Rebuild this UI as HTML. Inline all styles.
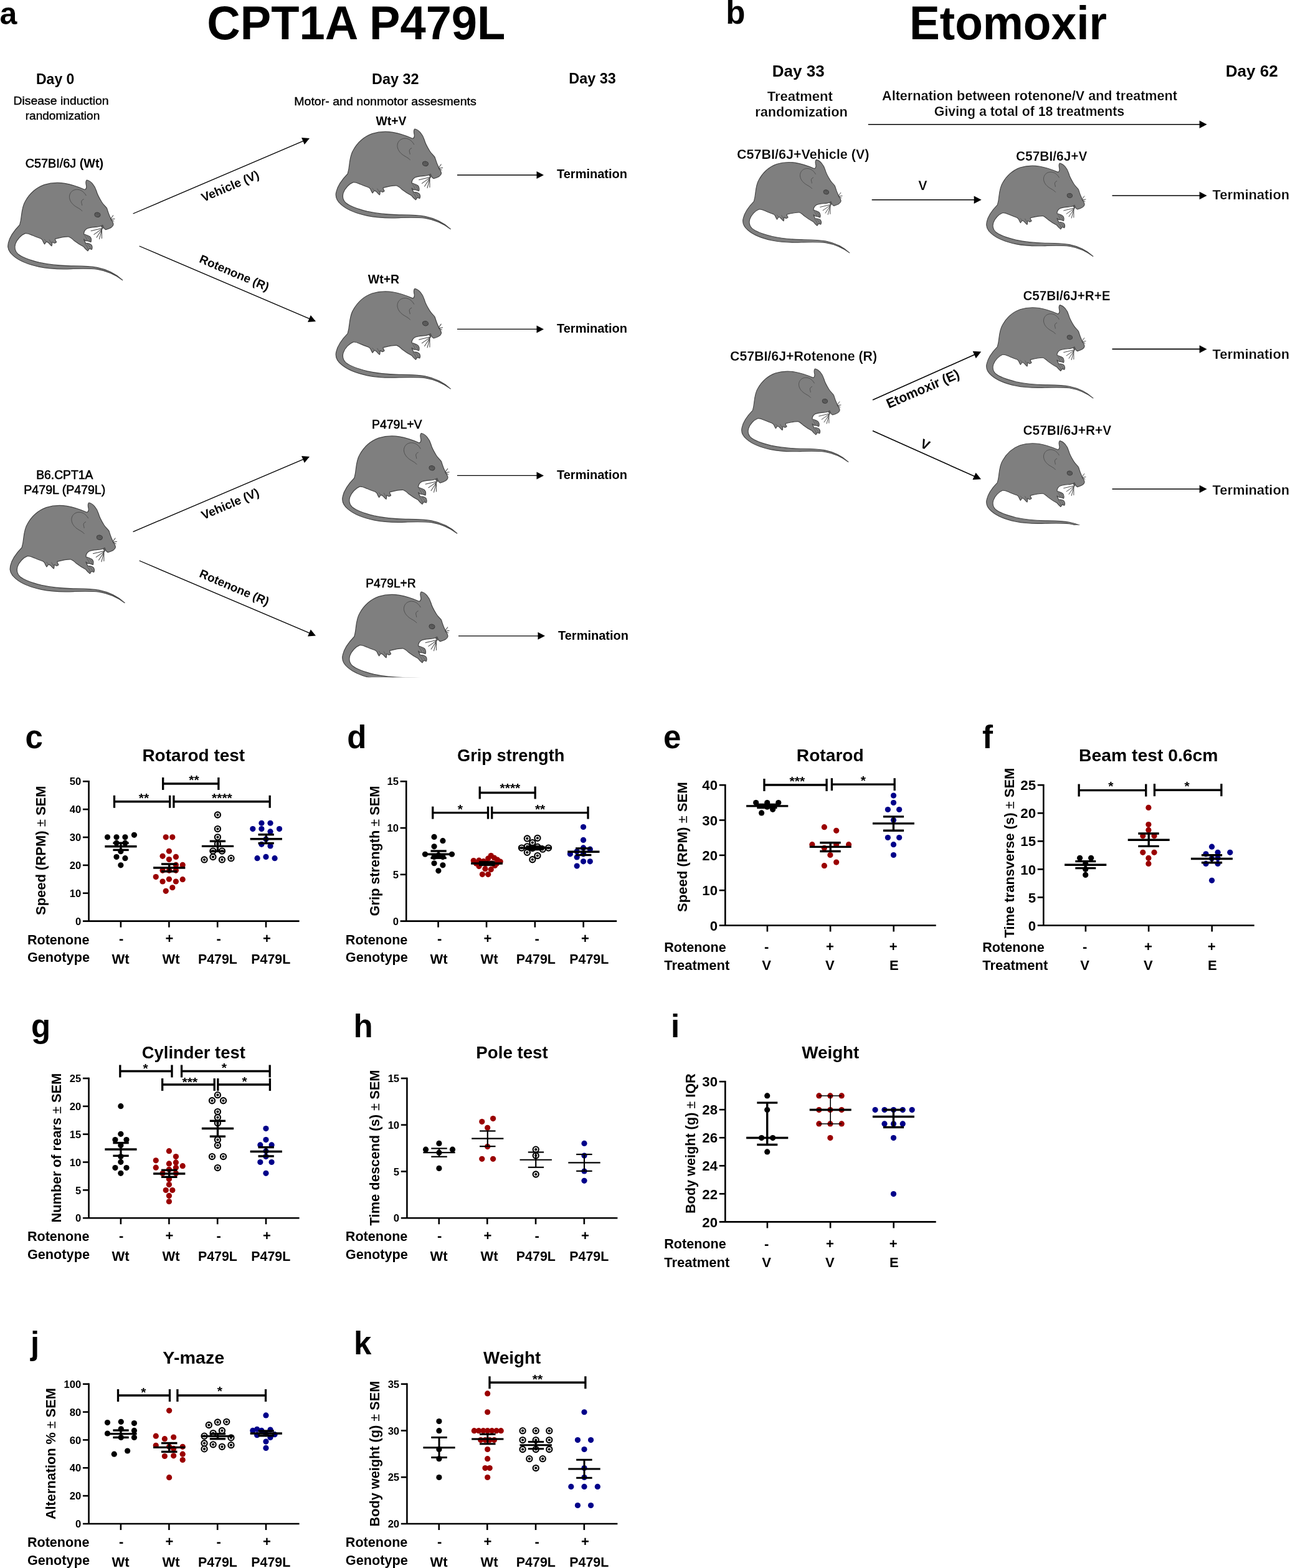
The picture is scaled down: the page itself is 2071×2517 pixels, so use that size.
<!DOCTYPE html>
<html><head><meta charset="utf-8"><title>Figure</title>
<style>
html,body{margin:0;padding:0;background:#fff;width:2071px;height:2517px;overflow:hidden;}
svg{display:block;font-family:"Liberation Sans",Arial,Helvetica,sans-serif;font-weight:bold;}
</style></head>
<body>
<svg width="2071" height="2517" viewBox="0 0 2071 2517">
<rect width="2071" height="2517" fill="#fff"/>
<defs><g id="mouse"><path d="M1100,150 C1150,160 1200,215 1222,290 C1232,330 1262,385 1290,430 C1310,465 1345,490 1355,510 C1370,560 1385,600 1400,630 C1420,670 1440,695 1436,715 C1430,745 1390,765 1340,778 C1320,770 1310,750 1300,722 C1285,730 1265,738 1245,742 C1190,748 1120,750 1095,770 C1075,785 1062,810 1062,835 C1090,845 1120,850 1140,868 C1155,885 1162,905 1152,935 C1135,930 1120,922 1105,920 C1090,925 1075,915 1062,900 C1070,925 1080,940 1085,950 C1110,950 1140,955 1158,972 C1170,990 1172,1010 1162,1030 C1150,1025 1140,1022 1130,1020 C1125,1030 1120,1040 1112,1048 C1095,1035 1075,1015 1060,995 C1020,975 975,945 940,918 C915,895 895,875 870,868 C820,866 760,880 700,895 C695,905 705,920 715,935 C705,945 695,950 685,948 C675,940 668,935 660,935 C662,955 660,970 655,985 C640,975 628,960 618,948 C608,940 598,932 590,930 C580,940 572,950 565,962 C552,945 545,925 538,910 C530,900 522,895 515,890 C480,880 440,862 400,845 C370,832 345,822 320,826 C270,845 215,900 195,960 C180,1010 190,1050 225,1085 C280,1130 380,1165 500,1195 C620,1222 760,1235 900,1238 C1020,1240 1130,1240 1230,1258 C1350,1282 1470,1340 1553,1418 C1470,1355 1350,1300 1230,1280 C1130,1268 1020,1272 900,1275 C760,1280 620,1275 500,1250 C380,1225 250,1180 170,1110 C110,1060 90,1010 105,950 C120,880 170,800 250,718 C262,680 268,640 272,600 C280,530 290,470 320,420 C370,330 450,250 560,210 C640,185 740,180 820,192 C900,205 990,235 1075,272 C1090,265 1098,245 1095,225 C1088,195 1080,165 1100,150 Z" fill="#7f7f7f" stroke="#454545" stroke-width="9.5" stroke-linejoin="round"/><path d="M1092,348 C1060,290 1010,262 955,272 C905,282 875,325 880,375 C888,430 930,470 975,495 C1005,512 1030,528 1043,545" fill="none" stroke="#474747" stroke-width="6.5"/><path d="M1062,392 C1040,400 1028,415 1032,435 C1036,450 1040,462 1040,472" fill="none" stroke="#474747" stroke-width="6.5"/><ellipse cx="1235" cy="590" rx="36" ry="29" transform="rotate(12 1235 590)" fill="#5c5c5c" stroke="#3a3a3a" stroke-width="8"/><path d="M1222,580 C1235,572 1250,580 1248,596" fill="none" stroke="#4a4a4a" stroke-width="5"/><path d="M1300,760 L1150,796 M1298,765 L1188,842 M1295,770 L1222,880 M1292,775 L1258,900 M1290,775 L1290,892 M1400,645 L1436,596 M1402,650 L1456,642 M1404,655 L1446,672" fill="none" stroke="#404040" stroke-width="8"/><path d="M1275,735 L1300,715 L1312,745 L1305,772 Z" fill="#555"/><path d="M1070,850 C1085,870 1100,890 1105,915 M1100,860 C1120,875 1135,895 1140,925 M1075,958 C1095,975 1110,995 1115,1030 M1105,962 C1125,975 1140,995 1150,1020 M560,900 L585,925 M625,905 L650,950" fill="none" stroke="#505050" stroke-width="6"/></g></defs>
<text x="-0.5" y="39" font-size="50">a</text>
<text x="571.8" y="62.8" font-size="75.5" text-anchor="middle" textLength="479" lengthAdjust="spacingAndGlyphs">CPT1A P479L</text>
<text x="88.7" y="134.6" font-size="23" text-anchor="middle">Day 0</text>
<text x="98" y="168.4" font-size="19" font-weight="normal" text-anchor="middle" textLength="153" lengthAdjust="spacingAndGlyphs" stroke="#000" stroke-width="0.4" stroke-linejoin="round">Disease induction</text>
<text x="100.5" y="191.7" font-size="19" font-weight="normal" text-anchor="middle" textLength="119.5" lengthAdjust="spacingAndGlyphs" stroke="#000" stroke-width="0.4" stroke-linejoin="round">randomization</text>
<text x="40.8" y="269.4" font-size="20" font-weight="normal" textLength="125.3" lengthAdjust="spacingAndGlyphs" stroke="#000" stroke-width="0.6" stroke-linejoin="round">C57BI/6J <tspan font-weight="bold" stroke="none">(Wt)</tspan></text>
<text x="634.8" y="134.6" font-size="23.4" text-anchor="middle">Day 32</text>
<text x="618.5" y="168.6" font-size="19" font-weight="normal" text-anchor="middle" textLength="292.5" lengthAdjust="spacingAndGlyphs" stroke="#000" stroke-width="0.4" stroke-linejoin="round">Motor- and nonmotor assesments</text>
<text x="951" y="134.2" font-size="23.4" text-anchor="middle">Day 33</text>
<text x="628" y="201" font-size="20.5" text-anchor="middle" textLength="48.9" lengthAdjust="spacingAndGlyphs">Wt+V</text>
<text x="616" y="455" font-size="20.5" text-anchor="middle" textLength="50.3" lengthAdjust="spacingAndGlyphs">Wt+R</text>
<text x="637.3" y="687.7" font-size="20" font-weight="normal" text-anchor="middle" textLength="80.5" lengthAdjust="spacingAndGlyphs" stroke="#000" stroke-width="0.6" stroke-linejoin="round">P479L+V</text>
<text x="627.4" y="943" font-size="20" font-weight="normal" text-anchor="middle" textLength="80.5" lengthAdjust="spacingAndGlyphs" stroke="#000" stroke-width="0.6" stroke-linejoin="round">P479L+R</text>
<text x="103.8" y="768.9" font-size="19.3" font-weight="normal" text-anchor="middle" stroke="#000" stroke-width="0.6" stroke-linejoin="round">B6.CPT1A</text>
<text x="103.8" y="792.7" font-size="19.5" font-weight="normal" text-anchor="middle" textLength="131" lengthAdjust="spacingAndGlyphs" stroke="#000" stroke-width="0.6" stroke-linejoin="round">P479L (P479L)</text>
<text x="894" y="286.4" font-size="20">Termination</text>
<line x1="734" y1="281" x2="862.5" y2="281" stroke="#000" stroke-width="1.35"/>
<polygon points="873,281 861.5,287 861.5,275" fill="#000"/>
<text x="894" y="534" font-size="20">Termination</text>
<line x1="734" y1="528.4" x2="862.5" y2="528.4" stroke="#000" stroke-width="1.35"/>
<polygon points="873,528.4 861.5,534.4 861.5,522.4" fill="#000"/>
<text x="894" y="769" font-size="20">Termination</text>
<line x1="734" y1="763.4" x2="862.5" y2="763.4" stroke="#000" stroke-width="1.35"/>
<polygon points="873,763.4 861.5,769.4 861.5,757.4" fill="#000"/>
<text x="896" y="1026.6" font-size="20">Termination</text>
<line x1="736" y1="1020.8" x2="864.5" y2="1020.8" stroke="#000" stroke-width="1.35"/>
<polygon points="875,1020.8 863.5,1026.8 863.5,1014.8" fill="#000"/>
<line x1="213.6" y1="343" x2="487.34" y2="226.12" stroke="#000" stroke-width="1.35"/>
<polygon points="497,222 488.78,232.03 484.07,221" fill="#000"/>
<line x1="223.7" y1="395" x2="497.34" y2="511.88" stroke="#000" stroke-width="1.35"/>
<polygon points="507,516 494.07,517 498.78,505.97" fill="#000"/>
<line x1="213.6" y1="853.6" x2="487.34" y2="737.11" stroke="#000" stroke-width="1.35"/>
<polygon points="497,733 488.77,743.02 484.07,731.98" fill="#000"/>
<line x1="223.7" y1="900" x2="497.34" y2="1016.49" stroke="#000" stroke-width="1.35"/>
<polygon points="507,1020.6 494.07,1021.62 498.77,1010.58" fill="#000"/>
<text x="372.2" y="304.8" font-size="19.5" text-anchor="middle" transform="rotate(-23.1 372.2 304.8)">Vehicle (V)</text>
<text x="373.7" y="444" font-size="19" text-anchor="middle" transform="rotate(23.1 373.7 444)">Rotenone (R)</text>
<text x="372.2" y="814.8" font-size="19.5" text-anchor="middle" transform="rotate(-23.1 372.2 814.8)">Vehicle (V)</text>
<text x="373.7" y="949" font-size="19" text-anchor="middle" transform="rotate(23.1 373.7 949)">Rotenone (R)</text>
<use href="#mouse" transform="translate(-0.04 269.99) scale(0.12673)"/>
<use href="#mouse" transform="translate(526.46 187.99) scale(0.12673)"/>
<use href="#mouse" transform="translate(526.46 444.39) scale(0.12673)"/>
<use href="#mouse" transform="translate(3.36 787.99) scale(0.12673)"/>
<use href="#mouse" transform="translate(536.96 676.49) scale(0.12673)"/>
<clipPath id="c45"><rect x="540" y="940" width="200" height="147.2"/></clipPath>
<g clip-path="url(#c45)"><use href="#mouse" transform="translate(536.96 930.99) scale(0.12673)"/></g>
<text x="1165.3" y="37.6" font-size="51">b</text>
<text x="1618.5" y="62.8" font-size="75.5" text-anchor="middle" textLength="317" lengthAdjust="spacingAndGlyphs">Etomoxir</text>
<text x="1281.7" y="123.4" font-size="26" text-anchor="middle">Day 33</text>
<text x="2009.7" y="123.4" font-size="26" text-anchor="middle">Day 62</text>
<text x="1284.3" y="162" font-size="22" text-anchor="middle" stroke="#fff" stroke-width="0.25" stroke-linejoin="round">Treatment</text>
<text x="1286.5" y="187" font-size="21.7" text-anchor="middle" textLength="148.5" lengthAdjust="spacingAndGlyphs" stroke="#fff" stroke-width="0.25" stroke-linejoin="round">randomization</text>
<text x="1653" y="161" font-size="21.6" text-anchor="middle" stroke="#fff" stroke-width="0.25" stroke-linejoin="round">Alternation between rotenone/V and treatment</text>
<text x="1652.5" y="186" font-size="21.3" text-anchor="middle" stroke="#fff" stroke-width="0.25" stroke-linejoin="round">Giving a total of 18 treatments</text>
<line x1="1393.8" y1="199.8" x2="1926.6" y2="199.8" stroke="#000" stroke-width="1.6"/>
<polygon points="1937.6,199.8 1925.6,206.05 1925.6,193.55" fill="#000"/>
<text x="1183" y="255" font-size="21.8" textLength="212.5" lengthAdjust="spacingAndGlyphs" stroke="#fff" stroke-width="0.25" stroke-linejoin="round">C57BI/6J+Vehicle (V)</text>
<text x="1481.5" y="305" font-size="21.5" text-anchor="middle" stroke="#fff" stroke-width="0.25" stroke-linejoin="round">V</text>
<line x1="1399.7" y1="320.8" x2="1564.6" y2="320.8" stroke="#000" stroke-width="1.6"/>
<polygon points="1575.6,320.8 1563.6,327.05 1563.6,314.55" fill="#000"/>
<text x="1631" y="257.6" font-size="21.8" textLength="114.5" lengthAdjust="spacingAndGlyphs" stroke="#fff" stroke-width="0.25" stroke-linejoin="round">C57BI/6J+V</text>
<line x1="1785.5" y1="314" x2="1926.6" y2="314" stroke="#000" stroke-width="1.6"/>
<polygon points="1937.6,314 1925.6,320.25 1925.6,307.75" fill="#000"/>
<text x="1946.5" y="320" font-size="21.9" stroke="#fff" stroke-width="0.25" stroke-linejoin="round">Termination</text>
<text x="1642.4" y="481.7" font-size="21.8" textLength="140.1" lengthAdjust="spacingAndGlyphs" stroke="#fff" stroke-width="0.25" stroke-linejoin="round">C57BI/6J+R+E</text>
<line x1="1785.5" y1="560.4" x2="1926.6" y2="560.4" stroke="#000" stroke-width="1.6"/>
<polygon points="1937.6,560.4 1925.6,566.65 1925.6,554.15" fill="#000"/>
<text x="1946.5" y="576" font-size="21.9" stroke="#fff" stroke-width="0.25" stroke-linejoin="round">Termination</text>
<text x="1172" y="579" font-size="21.8" textLength="236.1" lengthAdjust="spacingAndGlyphs" stroke="#fff" stroke-width="0.25" stroke-linejoin="round">C57BI/6J+Rotenone (R)</text>
<line x1="1401" y1="642" x2="1565.15" y2="569.07" stroke="#000" stroke-width="1.6"/>
<polygon points="1575.2,564.6 1566.77,575.18 1561.7,563.76" fill="#000"/>
<line x1="1401" y1="691.6" x2="1564.96" y2="764.81" stroke="#000" stroke-width="1.6"/>
<polygon points="1575,769.3 1561.49,770.11 1566.59,758.7" fill="#000"/>
<text x="1484.5" y="630.8" font-size="21.8" text-anchor="middle" transform="rotate(-23.4 1484.5 630.8)" textLength="125.5" lengthAdjust="spacingAndGlyphs">Etomoxir (E)</text>
<text x="1482.5" y="720" font-size="21" text-anchor="middle" transform="rotate(23.6 1482.5 720)">V</text>
<text x="1642.4" y="698" font-size="21.8" textLength="141.9" lengthAdjust="spacingAndGlyphs" stroke="#fff" stroke-width="0.25" stroke-linejoin="round">C57BI/6J+R+V</text>
<line x1="1785.5" y1="785" x2="1926.6" y2="785" stroke="#000" stroke-width="1.6"/>
<polygon points="1937.6,785 1925.6,791.25 1925.6,778.75" fill="#000"/>
<text x="1946.5" y="793.6" font-size="21.9" stroke="#fff" stroke-width="0.25" stroke-linejoin="round">Termination</text>
<use href="#mouse" transform="translate(1180.8 238.72) scale(0.11786)"/>
<use href="#mouse" transform="translate(1571.8 244.32) scale(0.11786)"/>
<use href="#mouse" transform="translate(1571.8 471.92) scale(0.11786)"/>
<use href="#mouse" transform="translate(1178.8 574.32) scale(0.11786)"/>
<clipPath id="c84"><rect x="1570" y="700" width="200" height="143"/></clipPath>
<g clip-path="url(#c84)"><use href="#mouse" transform="translate(1571.8 689.92) scale(0.11786)"/></g>
<line x1="142.55" y1="1253" x2="142.55" y2="1478.6" stroke="#000" stroke-width="2.6"/>
<line x1="132.95" y1="1478.6" x2="480.55" y2="1478.6" stroke="#000" stroke-width="2.6"/>
<line x1="132.95" y1="1254.3" x2="142.55" y2="1254.3" stroke="#000" stroke-width="2.6"/>
<line x1="132.95" y1="1299.16" x2="142.55" y2="1299.16" stroke="#000" stroke-width="2.6"/>
<line x1="132.95" y1="1344.02" x2="142.55" y2="1344.02" stroke="#000" stroke-width="2.6"/>
<line x1="132.95" y1="1388.88" x2="142.55" y2="1388.88" stroke="#000" stroke-width="2.6"/>
<line x1="132.95" y1="1433.74" x2="142.55" y2="1433.74" stroke="#000" stroke-width="2.6"/>
<line x1="193.9" y1="1478.6" x2="193.9" y2="1488.6" stroke="#000" stroke-width="2.6"/>
<line x1="271.4" y1="1478.6" x2="271.4" y2="1488.6" stroke="#000" stroke-width="2.6"/>
<line x1="349.2" y1="1478.6" x2="349.2" y2="1488.6" stroke="#000" stroke-width="2.6"/>
<line x1="427" y1="1478.6" x2="427" y2="1488.6" stroke="#000" stroke-width="2.6"/>
<text x="130.25" y="1260.46" font-size="16.6" text-anchor="end">50</text>
<text x="130.25" y="1305.32" font-size="16.6" text-anchor="end">40</text>
<text x="130.25" y="1350.18" font-size="16.6" text-anchor="end">30</text>
<text x="130.25" y="1395.04" font-size="16.6" text-anchor="end">20</text>
<text x="130.25" y="1439.9" font-size="16.6" text-anchor="end">10</text>
<text x="130.25" y="1484.76" font-size="16.6" text-anchor="end">0</text>
<circle cx="172.51" cy="1343.87" r="4.6" fill="#000000"/>
<circle cx="187.03" cy="1343.87" r="4.6" fill="#000000"/>
<circle cx="200.92" cy="1343.87" r="4.6" fill="#000000"/>
<circle cx="215.44" cy="1340.35" r="4.6" fill="#000000"/>
<circle cx="187.03" cy="1353.2" r="4.6" fill="#000000"/>
<circle cx="200.92" cy="1353.2" r="4.6" fill="#000000"/>
<circle cx="193.87" cy="1366.68" r="4.6" fill="#000000"/>
<circle cx="187.03" cy="1375.6" r="4.6" fill="#000000"/>
<circle cx="200.92" cy="1377.67" r="4.6" fill="#000000"/>
<circle cx="193.87" cy="1388.87" r="4.6" fill="#000000"/>
<circle cx="266.24" cy="1343.87" r="4.6" fill="#9a0000"/>
<circle cx="276.82" cy="1343.87" r="4.6" fill="#9a0000"/>
<circle cx="271.43" cy="1366.27" r="4.6" fill="#9a0000"/>
<circle cx="261.06" cy="1374.35" r="4.6" fill="#9a0000"/>
<circle cx="282.42" cy="1375.39" r="4.6" fill="#9a0000"/>
<circle cx="271.43" cy="1379.54" r="4.6" fill="#9a0000"/>
<circle cx="282.42" cy="1388.46" r="4.6" fill="#9a0000"/>
<circle cx="293.2" cy="1388.46" r="4.6" fill="#9a0000"/>
<circle cx="261.06" cy="1397.37" r="4.6" fill="#9a0000"/>
<circle cx="271.64" cy="1397.37" r="4.6" fill="#9a0000"/>
<circle cx="282.42" cy="1397.37" r="4.6" fill="#9a0000"/>
<circle cx="250.28" cy="1407.53" r="4.6" fill="#9a0000"/>
<circle cx="271.43" cy="1411.27" r="4.6" fill="#9a0000"/>
<circle cx="293.2" cy="1411.68" r="4.6" fill="#9a0000"/>
<circle cx="261.06" cy="1415" r="4.6" fill="#9a0000"/>
<circle cx="282.42" cy="1415" r="4.6" fill="#9a0000"/>
<circle cx="276.82" cy="1424.75" r="4.6" fill="#9a0000"/>
<circle cx="266.24" cy="1430.35" r="4.6" fill="#9a0000"/>
<circle cx="349.4" cy="1308" r="4.6" fill="#f0f0f0" stroke="#000" stroke-width="2.1"/>
<circle cx="349.4" cy="1308" r="2.05" fill="#000"/>
<circle cx="349.4" cy="1330.6" r="4.6" fill="#f0f0f0" stroke="#000" stroke-width="2.1"/>
<circle cx="349.4" cy="1330.6" r="2.05" fill="#000"/>
<circle cx="349.4" cy="1343.87" r="4.6" fill="#f0f0f0" stroke="#000" stroke-width="2.1"/>
<circle cx="349.4" cy="1343.87" r="2.05" fill="#000"/>
<circle cx="349.4" cy="1354.86" r="4.6" fill="#f0f0f0" stroke="#000" stroke-width="2.1"/>
<circle cx="349.4" cy="1354.86" r="2.05" fill="#000"/>
<circle cx="341.94" cy="1366.06" r="4.6" fill="#f0f0f0" stroke="#000" stroke-width="2.1"/>
<circle cx="341.94" cy="1366.06" r="2.05" fill="#000"/>
<circle cx="356.45" cy="1366.06" r="4.6" fill="#f0f0f0" stroke="#000" stroke-width="2.1"/>
<circle cx="356.45" cy="1366.06" r="2.05" fill="#000"/>
<circle cx="341.94" cy="1375.6" r="4.6" fill="#f0f0f0" stroke="#000" stroke-width="2.1"/>
<circle cx="341.94" cy="1375.6" r="2.05" fill="#000"/>
<circle cx="328.04" cy="1379.95" r="4.6" fill="#f0f0f0" stroke="#000" stroke-width="2.1"/>
<circle cx="328.04" cy="1379.95" r="2.05" fill="#000"/>
<circle cx="356.45" cy="1379.95" r="4.6" fill="#f0f0f0" stroke="#000" stroke-width="2.1"/>
<circle cx="356.45" cy="1379.95" r="2.05" fill="#000"/>
<circle cx="370.97" cy="1377.67" r="4.6" fill="#f0f0f0" stroke="#000" stroke-width="2.1"/>
<circle cx="370.97" cy="1377.67" r="2.05" fill="#000"/>
<circle cx="419.91" cy="1321.27" r="4.6" fill="#00008a"/>
<circle cx="434.01" cy="1321.27" r="4.6" fill="#00008a"/>
<circle cx="405.81" cy="1330.6" r="4.6" fill="#00008a"/>
<circle cx="419.91" cy="1330.6" r="4.6" fill="#00008a"/>
<circle cx="448.53" cy="1330.6" r="4.6" fill="#00008a"/>
<circle cx="434.01" cy="1334.95" r="4.6" fill="#00008a"/>
<circle cx="419.91" cy="1355.28" r="4.6" fill="#00008a"/>
<circle cx="434.01" cy="1357.97" r="4.6" fill="#00008a"/>
<circle cx="413.06" cy="1377.67" r="4.6" fill="#00008a"/>
<circle cx="426.96" cy="1375.39" r="4.6" fill="#00008a"/>
<circle cx="441.06" cy="1377.67" r="4.6" fill="#00008a"/>
<circle cx="426.96" cy="1346.98" r="4.6" fill="#00008a"/>
<line x1="193.97" y1="1353.2" x2="193.97" y2="1364.4" stroke="#000" stroke-width="3.4"/>
<line x1="168.36" y1="1358.8" x2="219.59" y2="1358.8" stroke="#000" stroke-width="3.4"/>
<line x1="181.43" y1="1353.2" x2="206.73" y2="1353.2" stroke="#000" stroke-width="3.4"/>
<line x1="181.43" y1="1364.4" x2="206.73" y2="1364.4" stroke="#000" stroke-width="3.4"/>
<line x1="271.74" y1="1387" x2="271.74" y2="1398.82" stroke="#000" stroke-width="3.4"/>
<line x1="246.13" y1="1393.02" x2="297.35" y2="1393.02" stroke="#000" stroke-width="3.4"/>
<line x1="258.99" y1="1387" x2="284.49" y2="1387" stroke="#000" stroke-width="3.4"/>
<line x1="258.99" y1="1398.82" x2="284.49" y2="1398.82" stroke="#000" stroke-width="3.4"/>
<line x1="349.5" y1="1350.3" x2="349.5" y2="1366.47" stroke="#000" stroke-width="3.4"/>
<line x1="323.89" y1="1358.39" x2="375.12" y2="1358.39" stroke="#000" stroke-width="3.4"/>
<line x1="336.75" y1="1350.3" x2="362.05" y2="1350.3" stroke="#000" stroke-width="3.4"/>
<line x1="336.75" y1="1366.47" x2="362.05" y2="1366.47" stroke="#000" stroke-width="3.4"/>
<line x1="427.27" y1="1339.72" x2="427.27" y2="1353.62" stroke="#000" stroke-width="3.4"/>
<line x1="401.66" y1="1346.77" x2="452.88" y2="1346.77" stroke="#000" stroke-width="3.4"/>
<line x1="414.52" y1="1339.72" x2="439.82" y2="1339.72" stroke="#000" stroke-width="3.4"/>
<line x1="414.52" y1="1353.62" x2="439.82" y2="1353.62" stroke="#000" stroke-width="3.4"/>
<line x1="261.68" y1="1258" x2="350.85" y2="1258" stroke="#000" stroke-width="3.4"/>
<line x1="261.68" y1="1248" x2="261.68" y2="1268" stroke="#000" stroke-width="3.3"/>
<line x1="350.85" y1="1248" x2="350.85" y2="1268" stroke="#000" stroke-width="3.3"/>
<text x="311.45" y="1258.98" font-size="21" text-anchor="middle">**</text>
<line x1="183.5" y1="1286.82" x2="272.67" y2="1286.82" stroke="#000" stroke-width="3.4"/>
<line x1="183.5" y1="1276.82" x2="183.5" y2="1296.82" stroke="#000" stroke-width="3.3"/>
<line x1="272.67" y1="1276.82" x2="272.67" y2="1296.82" stroke="#000" stroke-width="3.3"/>
<text x="230.99" y="1288.43" font-size="21" text-anchor="middle">**</text>
<line x1="278.89" y1="1286.82" x2="433.18" y2="1286.82" stroke="#000" stroke-width="3.4"/>
<line x1="278.89" y1="1276.82" x2="278.89" y2="1296.82" stroke="#000" stroke-width="3.3"/>
<line x1="433.18" y1="1276.82" x2="433.18" y2="1296.82" stroke="#000" stroke-width="3.3"/>
<text x="356.45" y="1288.43" font-size="21" text-anchor="middle">****</text>
<text x="310.8" y="1222.1" font-size="28" text-anchor="middle" textLength="164.8" lengthAdjust="spacingAndGlyphs">Rotarod test</text>
<text x="40.5" y="1201.3" font-size="51">c</text>
<text transform="translate(73.4 1365.2) rotate(-90)" font-size="22.4" text-anchor="middle" textLength="207.6" lengthAdjust="spacingAndGlyphs">Speed (RPM) <tspan font-weight="normal">±</tspan> SEM</text>
<text x="43.9" y="1515.7" font-size="22" textLength="99.5" lengthAdjust="spacingAndGlyphs">Rotenone</text>
<text x="43.9" y="1544.3" font-size="22" textLength="100.1" lengthAdjust="spacingAndGlyphs">Genotype</text>
<text x="194.7" y="1514.4" font-size="22" text-anchor="middle">-</text>
<text x="272" y="1514.4" font-size="22" text-anchor="middle">+</text>
<text x="351.1" y="1514.4" font-size="22" text-anchor="middle">-</text>
<text x="428.4" y="1514.4" font-size="22" text-anchor="middle">+</text>
<text x="193.6" y="1547.4" font-size="22" text-anchor="middle">Wt</text>
<text x="274.5" y="1547.4" font-size="22" text-anchor="middle">Wt</text>
<text x="349.4" y="1547.4" font-size="22" text-anchor="middle" textLength="63" lengthAdjust="spacingAndGlyphs">P479L</text>
<text x="434.8" y="1547.4" font-size="22" text-anchor="middle" textLength="63" lengthAdjust="spacingAndGlyphs">P479L</text>
<line x1="652.2" y1="1253" x2="652.2" y2="1478.6" stroke="#000" stroke-width="2.6"/>
<line x1="642.6" y1="1478.6" x2="990.2" y2="1478.6" stroke="#000" stroke-width="2.6"/>
<line x1="642.6" y1="1254.3" x2="652.2" y2="1254.3" stroke="#000" stroke-width="2.6"/>
<line x1="642.6" y1="1329.07" x2="652.2" y2="1329.07" stroke="#000" stroke-width="2.6"/>
<line x1="642.6" y1="1403.83" x2="652.2" y2="1403.83" stroke="#000" stroke-width="2.6"/>
<line x1="703.55" y1="1478.6" x2="703.55" y2="1488.6" stroke="#000" stroke-width="2.6"/>
<line x1="781.05" y1="1478.6" x2="781.05" y2="1488.6" stroke="#000" stroke-width="2.6"/>
<line x1="858.85" y1="1478.6" x2="858.85" y2="1488.6" stroke="#000" stroke-width="2.6"/>
<line x1="936.65" y1="1478.6" x2="936.65" y2="1488.6" stroke="#000" stroke-width="2.6"/>
<text x="639.9" y="1260.46" font-size="16.6" text-anchor="end">15</text>
<text x="639.9" y="1335.23" font-size="16.6" text-anchor="end">10</text>
<text x="639.9" y="1409.99" font-size="16.6" text-anchor="end">5</text>
<text x="639.9" y="1484.76" font-size="16.6" text-anchor="end">0</text>
<circle cx="697.03" cy="1343.46" r="4.6" fill="#000000"/>
<circle cx="710.92" cy="1349.68" r="4.6" fill="#000000"/>
<circle cx="697.03" cy="1358.8" r="4.6" fill="#000000"/>
<circle cx="682.51" cy="1371.24" r="4.6" fill="#000000"/>
<circle cx="725.44" cy="1371.24" r="4.6" fill="#000000"/>
<circle cx="697.03" cy="1375.6" r="4.6" fill="#000000"/>
<circle cx="710.92" cy="1375.6" r="4.6" fill="#000000"/>
<circle cx="703.87" cy="1372.9" r="4.6" fill="#000000"/>
<circle cx="697.03" cy="1385.76" r="4.6" fill="#000000"/>
<circle cx="710.92" cy="1388.87" r="4.6" fill="#000000"/>
<circle cx="703.87" cy="1397.79" r="4.6" fill="#000000"/>
<circle cx="760.28" cy="1381.61" r="4.6" fill="#9a0000"/>
<circle cx="768.99" cy="1381.2" r="4.6" fill="#9a0000"/>
<circle cx="776.24" cy="1382.65" r="4.6" fill="#9a0000"/>
<circle cx="788.27" cy="1373.53" r="4.6" fill="#9a0000"/>
<circle cx="783.71" cy="1378.09" r="4.6" fill="#9a0000"/>
<circle cx="793.46" cy="1377.05" r="4.6" fill="#9a0000"/>
<circle cx="798.64" cy="1380.16" r="4.6" fill="#9a0000"/>
<circle cx="803.2" cy="1383.06" r="4.6" fill="#9a0000"/>
<circle cx="764.42" cy="1385.97" r="4.6" fill="#9a0000"/>
<circle cx="772.72" cy="1385.97" r="4.6" fill="#9a0000"/>
<circle cx="781.01" cy="1385.97" r="4.6" fill="#9a0000"/>
<circle cx="789.31" cy="1385.97" r="4.6" fill="#9a0000"/>
<circle cx="797.6" cy="1385.97" r="4.6" fill="#9a0000"/>
<circle cx="768.99" cy="1390.53" r="4.6" fill="#9a0000"/>
<circle cx="778.94" cy="1394.68" r="4.6" fill="#9a0000"/>
<circle cx="788.27" cy="1395.71" r="4.6" fill="#9a0000"/>
<circle cx="794.49" cy="1389.49" r="4.6" fill="#9a0000"/>
<circle cx="774.38" cy="1403.59" r="4.6" fill="#9a0000"/>
<circle cx="783.71" cy="1403.59" r="4.6" fill="#9a0000"/>
<circle cx="846.34" cy="1345.94" r="4.6" fill="#f0f0f0" stroke="#000" stroke-width="2.1"/>
<circle cx="846.34" cy="1345.94" r="2.05" fill="#000"/>
<circle cx="862.93" cy="1345.32" r="4.6" fill="#f0f0f0" stroke="#000" stroke-width="2.1"/>
<circle cx="862.93" cy="1345.32" r="2.05" fill="#000"/>
<circle cx="854.84" cy="1352.58" r="4.6" fill="#f0f0f0" stroke="#000" stroke-width="2.1"/>
<circle cx="854.84" cy="1352.58" r="2.05" fill="#000"/>
<circle cx="846.34" cy="1358.8" r="4.6" fill="#f0f0f0" stroke="#000" stroke-width="2.1"/>
<circle cx="846.34" cy="1358.8" r="2.05" fill="#000"/>
<circle cx="837.42" cy="1361.08" r="4.6" fill="#f0f0f0" stroke="#000" stroke-width="2.1"/>
<circle cx="837.42" cy="1361.08" r="2.05" fill="#000"/>
<circle cx="880.55" cy="1361.08" r="4.6" fill="#f0f0f0" stroke="#000" stroke-width="2.1"/>
<circle cx="880.55" cy="1361.08" r="2.05" fill="#000"/>
<circle cx="871.22" cy="1363.16" r="4.6" fill="#f0f0f0" stroke="#000" stroke-width="2.1"/>
<circle cx="871.22" cy="1363.16" r="2.05" fill="#000"/>
<circle cx="854.84" cy="1361.5" r="4.6" fill="#f0f0f0" stroke="#000" stroke-width="2.1"/>
<circle cx="854.84" cy="1361.5" r="2.05" fill="#000"/>
<circle cx="862.93" cy="1359.42" r="4.6" fill="#f0f0f0" stroke="#000" stroke-width="2.1"/>
<circle cx="862.93" cy="1359.42" r="2.05" fill="#000"/>
<circle cx="846.34" cy="1368.34" r="4.6" fill="#f0f0f0" stroke="#000" stroke-width="2.1"/>
<circle cx="846.34" cy="1368.34" r="2.05" fill="#000"/>
<circle cx="862.93" cy="1373.53" r="4.6" fill="#f0f0f0" stroke="#000" stroke-width="2.1"/>
<circle cx="862.93" cy="1373.53" r="2.05" fill="#000"/>
<circle cx="854.84" cy="1379.75" r="4.6" fill="#f0f0f0" stroke="#000" stroke-width="2.1"/>
<circle cx="854.84" cy="1379.75" r="2.05" fill="#000"/>
<circle cx="936.54" cy="1327.49" r="4.6" fill="#00008a"/>
<circle cx="936.54" cy="1348.43" r="4.6" fill="#00008a"/>
<circle cx="936.54" cy="1360.88" r="4.6" fill="#00008a"/>
<circle cx="947.33" cy="1363.16" r="4.6" fill="#00008a"/>
<circle cx="926.18" cy="1366.68" r="4.6" fill="#00008a"/>
<circle cx="915.39" cy="1370.83" r="4.6" fill="#00008a"/>
<circle cx="926.18" cy="1376.01" r="4.6" fill="#00008a"/>
<circle cx="936.54" cy="1370.83" r="4.6" fill="#00008a"/>
<circle cx="936.54" cy="1382.86" r="4.6" fill="#00008a"/>
<circle cx="947.33" cy="1382.86" r="4.6" fill="#00008a"/>
<circle cx="926.18" cy="1390.12" r="4.6" fill="#00008a"/>
<line x1="703.97" y1="1366.06" x2="703.97" y2="1377.26" stroke="#000" stroke-width="3.4"/>
<line x1="678.36" y1="1371.24" x2="729.59" y2="1371.24" stroke="#000" stroke-width="3.4"/>
<line x1="691.43" y1="1366.06" x2="716.73" y2="1366.06" stroke="#000" stroke-width="3.4"/>
<line x1="691.43" y1="1377.26" x2="716.73" y2="1377.26" stroke="#000" stroke-width="3.4"/>
<line x1="781.53" y1="1383.89" x2="781.53" y2="1388.46" stroke="#000" stroke-width="3.4"/>
<line x1="756.13" y1="1385.97" x2="806.94" y2="1385.97" stroke="#000" stroke-width="3.4"/>
<line x1="768.99" y1="1383.89" x2="794.49" y2="1383.89" stroke="#000" stroke-width="3.4"/>
<line x1="768.99" y1="1388.46" x2="794.49" y2="1388.46" stroke="#000" stroke-width="3.4"/>
<line x1="859.5" y1="1358.8" x2="859.5" y2="1363.57" stroke="#000" stroke-width="3.4"/>
<line x1="833.89" y1="1361.08" x2="885.12" y2="1361.08" stroke="#000" stroke-width="3.4"/>
<line x1="846.75" y1="1358.8" x2="872.05" y2="1358.8" stroke="#000" stroke-width="3.4"/>
<line x1="846.75" y1="1363.57" x2="872.05" y2="1363.57" stroke="#000" stroke-width="3.4"/>
<line x1="936.85" y1="1361.91" x2="936.85" y2="1372.49" stroke="#000" stroke-width="3.4"/>
<line x1="911.24" y1="1367.3" x2="962.47" y2="1367.3" stroke="#000" stroke-width="3.4"/>
<line x1="924.1" y1="1361.91" x2="949.4" y2="1361.91" stroke="#000" stroke-width="3.4"/>
<line x1="924.1" y1="1372.49" x2="949.4" y2="1372.49" stroke="#000" stroke-width="3.4"/>
<line x1="770.23" y1="1272.51" x2="859.19" y2="1272.51" stroke="#000" stroke-width="3.4"/>
<line x1="770.23" y1="1262.51" x2="770.23" y2="1282.51" stroke="#000" stroke-width="3.3"/>
<line x1="859.19" y1="1262.51" x2="859.19" y2="1282.51" stroke="#000" stroke-width="3.3"/>
<text x="818.96" y="1272.46" font-size="21" text-anchor="middle">****</text>
<line x1="694.75" y1="1304.66" x2="783.5" y2="1304.66" stroke="#000" stroke-width="3.4"/>
<line x1="694.75" y1="1294.66" x2="694.75" y2="1314.66" stroke="#000" stroke-width="3.3"/>
<line x1="783.5" y1="1294.66" x2="783.5" y2="1314.66" stroke="#000" stroke-width="3.3"/>
<text x="738.92" y="1305.64" font-size="21" text-anchor="middle">*</text>
<line x1="789.72" y1="1304.66" x2="944.01" y2="1304.66" stroke="#000" stroke-width="3.4"/>
<line x1="789.72" y1="1294.66" x2="789.72" y2="1314.66" stroke="#000" stroke-width="3.3"/>
<line x1="944.01" y1="1294.66" x2="944.01" y2="1314.66" stroke="#000" stroke-width="3.3"/>
<text x="867.07" y="1305.64" font-size="21" text-anchor="middle">**</text>
<text x="820.2" y="1222.1" font-size="28" text-anchor="middle" textLength="172.3" lengthAdjust="spacingAndGlyphs">Grip strength</text>
<text x="557.3" y="1201.3" font-size="51">d</text>
<text transform="translate(608.7 1366) rotate(-90)" font-size="22.4" text-anchor="middle" textLength="209" lengthAdjust="spacingAndGlyphs">Grip strength <tspan font-weight="normal">±</tspan> SEM</text>
<text x="554.85" y="1515.7" font-size="22" textLength="99.5" lengthAdjust="spacingAndGlyphs">Rotenone</text>
<text x="554.85" y="1544.3" font-size="22" textLength="100.1" lengthAdjust="spacingAndGlyphs">Genotype</text>
<text x="705.65" y="1514.4" font-size="22" text-anchor="middle">-</text>
<text x="782.95" y="1514.4" font-size="22" text-anchor="middle">+</text>
<text x="862.05" y="1514.4" font-size="22" text-anchor="middle">-</text>
<text x="939.35" y="1514.4" font-size="22" text-anchor="middle">+</text>
<text x="704.55" y="1547.4" font-size="22" text-anchor="middle">Wt</text>
<text x="785.45" y="1547.4" font-size="22" text-anchor="middle">Wt</text>
<text x="860.35" y="1547.4" font-size="22" text-anchor="middle" textLength="63" lengthAdjust="spacingAndGlyphs">P479L</text>
<text x="945.75" y="1547.4" font-size="22" text-anchor="middle" textLength="63" lengthAdjust="spacingAndGlyphs">P479L</text>
<line x1="1164.3" y1="1258.9" x2="1164.3" y2="1485.5" stroke="#000" stroke-width="2.6"/>
<line x1="1154.7" y1="1485.5" x2="1502.7" y2="1485.5" stroke="#000" stroke-width="2.6"/>
<line x1="1154.7" y1="1260.2" x2="1164.3" y2="1260.2" stroke="#000" stroke-width="2.6"/>
<line x1="1154.7" y1="1316.53" x2="1164.3" y2="1316.53" stroke="#000" stroke-width="2.6"/>
<line x1="1154.7" y1="1372.85" x2="1164.3" y2="1372.85" stroke="#000" stroke-width="2.6"/>
<line x1="1154.7" y1="1429.17" x2="1164.3" y2="1429.17" stroke="#000" stroke-width="2.6"/>
<line x1="1231.9" y1="1485.5" x2="1231.9" y2="1495.5" stroke="#000" stroke-width="2.6"/>
<line x1="1333.1" y1="1485.5" x2="1333.1" y2="1495.5" stroke="#000" stroke-width="2.6"/>
<line x1="1434.7" y1="1485.5" x2="1434.7" y2="1495.5" stroke="#000" stroke-width="2.6"/>
<text x="1152" y="1268.34" font-size="22.2" text-anchor="end">40</text>
<text x="1152" y="1324.66" font-size="22.2" text-anchor="end">30</text>
<text x="1152" y="1380.99" font-size="22.2" text-anchor="end">20</text>
<text x="1152" y="1437.31" font-size="22.2" text-anchor="end">10</text>
<text x="1152" y="1493.64" font-size="22.2" text-anchor="end">0</text>
<circle cx="1213.66" cy="1288.5" r="4.6" fill="#000000"/>
<circle cx="1231.71" cy="1288.5" r="4.6" fill="#000000"/>
<circle cx="1249.75" cy="1288.5" r="4.6" fill="#000000"/>
<circle cx="1240.62" cy="1299.29" r="4.6" fill="#000000"/>
<circle cx="1222.58" cy="1304.88" r="4.6" fill="#000000"/>
<circle cx="1231.71" cy="1295.14" r="4.6" fill="#000000"/>
<circle cx="1323.36" cy="1327.7" r="4.6" fill="#9a0000"/>
<circle cx="1342.65" cy="1333.29" r="4.6" fill="#9a0000"/>
<circle cx="1303.87" cy="1355.69" r="4.6" fill="#9a0000"/>
<circle cx="1362.56" cy="1355.69" r="4.6" fill="#9a0000"/>
<circle cx="1342.65" cy="1355.69" r="4.6" fill="#9a0000"/>
<circle cx="1323.36" cy="1361.29" r="4.6" fill="#9a0000"/>
<circle cx="1332.9" cy="1372.49" r="4.6" fill="#9a0000"/>
<circle cx="1342.65" cy="1384.1" r="4.6" fill="#9a0000"/>
<circle cx="1323.36" cy="1389.7" r="4.6" fill="#9a0000"/>
<circle cx="1434.52" cy="1277.1" r="4.6" fill="#00008a"/>
<circle cx="1434.52" cy="1288.5" r="4.6" fill="#00008a"/>
<circle cx="1425.39" cy="1299.49" r="4.6" fill="#00008a"/>
<circle cx="1443.64" cy="1299.49" r="4.6" fill="#00008a"/>
<circle cx="1434.52" cy="1316.5" r="4.6" fill="#00008a"/>
<circle cx="1425.39" cy="1344.49" r="4.6" fill="#00008a"/>
<circle cx="1443.64" cy="1344.49" r="4.6" fill="#00008a"/>
<circle cx="1434.52" cy="1355.69" r="4.6" fill="#00008a"/>
<circle cx="1434.52" cy="1372.49" r="4.6" fill="#00008a"/>
<line x1="1231.71" y1="1291.41" x2="1231.71" y2="1296.59" stroke="#000" stroke-width="3.4"/>
<line x1="1198.11" y1="1293.89" x2="1265.3" y2="1293.89" stroke="#000" stroke-width="3.4"/>
<line x1="1215.32" y1="1291.41" x2="1247.47" y2="1291.41" stroke="#000" stroke-width="3.4"/>
<line x1="1215.32" y1="1296.59" x2="1247.47" y2="1296.59" stroke="#000" stroke-width="3.4"/>
<line x1="1333.21" y1="1352.79" x2="1333.21" y2="1366.47" stroke="#000" stroke-width="3.4"/>
<line x1="1299.72" y1="1359.42" x2="1366.71" y2="1359.42" stroke="#000" stroke-width="3.4"/>
<line x1="1316.31" y1="1352.79" x2="1349.7" y2="1352.79" stroke="#000" stroke-width="3.4"/>
<line x1="1316.31" y1="1366.47" x2="1349.7" y2="1366.47" stroke="#000" stroke-width="3.4"/>
<line x1="1434.41" y1="1310.9" x2="1434.41" y2="1333.29" stroke="#000" stroke-width="3.4"/>
<line x1="1400.92" y1="1321.89" x2="1467.9" y2="1321.89" stroke="#000" stroke-width="3.4"/>
<line x1="1417.93" y1="1310.9" x2="1451.11" y2="1310.9" stroke="#000" stroke-width="3.4"/>
<line x1="1417.93" y1="1333.29" x2="1451.11" y2="1333.29" stroke="#000" stroke-width="3.4"/>
<line x1="1226.94" y1="1259.99" x2="1327.1" y2="1259.99" stroke="#000" stroke-width="3.4"/>
<line x1="1226.94" y1="1249.99" x2="1226.94" y2="1269.99" stroke="#000" stroke-width="3.3"/>
<line x1="1327.1" y1="1249.99" x2="1327.1" y2="1269.99" stroke="#000" stroke-width="3.3"/>
<text x="1279.82" y="1261.05" font-size="21" text-anchor="middle">***</text>
<line x1="1335.39" y1="1259.16" x2="1436.18" y2="1259.16" stroke="#000" stroke-width="3.4"/>
<line x1="1335.39" y1="1249.16" x2="1335.39" y2="1269.16" stroke="#000" stroke-width="3.3"/>
<line x1="1436.18" y1="1249.16" x2="1436.18" y2="1269.16" stroke="#000" stroke-width="3.3"/>
<text x="1385.78" y="1260.02" font-size="21" text-anchor="middle">*</text>
<text x="1332.8" y="1222.1" font-size="28" text-anchor="middle" textLength="107.9" lengthAdjust="spacingAndGlyphs">Rotarod</text>
<text x="1065" y="1201" font-size="51">e</text>
<text transform="translate(1102.9 1359.7) rotate(-90)" font-size="22.4" text-anchor="middle" textLength="208.5" lengthAdjust="spacingAndGlyphs">Speed (RPM) <tspan font-weight="normal">±</tspan> SEM</text>
<text x="1066.2" y="1527.9" font-size="22" textLength="99.5" lengthAdjust="spacingAndGlyphs">Rotenone</text>
<text x="1066.2" y="1557.2" font-size="22" textLength="105.2" lengthAdjust="spacingAndGlyphs">Treatment</text>
<text x="1230.6" y="1527.2" font-size="22" text-anchor="middle">-</text>
<text x="1332.5" y="1527.2" font-size="22" text-anchor="middle">+</text>
<text x="1434.3" y="1527.2" font-size="22" text-anchor="middle">+</text>
<text x="1230.7" y="1557.2" font-size="22" text-anchor="middle">V</text>
<text x="1332.3" y="1557.2" font-size="22" text-anchor="middle">V</text>
<text x="1435.3" y="1557.2" font-size="22" text-anchor="middle">E</text>
<line x1="1675.3" y1="1258.9" x2="1675.3" y2="1485.5" stroke="#000" stroke-width="2.6"/>
<line x1="1665.7" y1="1485.5" x2="2013.7" y2="1485.5" stroke="#000" stroke-width="2.6"/>
<line x1="1665.7" y1="1260.2" x2="1675.3" y2="1260.2" stroke="#000" stroke-width="2.6"/>
<line x1="1665.7" y1="1305.26" x2="1675.3" y2="1305.26" stroke="#000" stroke-width="2.6"/>
<line x1="1665.7" y1="1350.32" x2="1675.3" y2="1350.32" stroke="#000" stroke-width="2.6"/>
<line x1="1665.7" y1="1395.38" x2="1675.3" y2="1395.38" stroke="#000" stroke-width="2.6"/>
<line x1="1665.7" y1="1440.44" x2="1675.3" y2="1440.44" stroke="#000" stroke-width="2.6"/>
<line x1="1742.9" y1="1485.5" x2="1742.9" y2="1495.5" stroke="#000" stroke-width="2.6"/>
<line x1="1844.1" y1="1485.5" x2="1844.1" y2="1495.5" stroke="#000" stroke-width="2.6"/>
<line x1="1945.7" y1="1485.5" x2="1945.7" y2="1495.5" stroke="#000" stroke-width="2.6"/>
<text x="1663" y="1268.34" font-size="22.2" text-anchor="end">25</text>
<text x="1663" y="1313.4" font-size="22.2" text-anchor="end">20</text>
<text x="1663" y="1358.46" font-size="22.2" text-anchor="end">15</text>
<text x="1663" y="1403.52" font-size="22.2" text-anchor="end">10</text>
<text x="1663" y="1448.58" font-size="22.2" text-anchor="end">5</text>
<text x="1663" y="1493.64" font-size="22.2" text-anchor="end">0</text>
<circle cx="1733.58" cy="1377.26" r="4.6" fill="#000000"/>
<circle cx="1751.62" cy="1377.26" r="4.6" fill="#000000"/>
<circle cx="1742.71" cy="1386.38" r="4.6" fill="#000000"/>
<circle cx="1742.71" cy="1395.3" r="4.6" fill="#000000"/>
<circle cx="1742.71" cy="1404.42" r="4.6" fill="#000000"/>
<circle cx="1843.9" cy="1296.38" r="4.6" fill="#9a0000"/>
<circle cx="1843.9" cy="1323.55" r="4.6" fill="#9a0000"/>
<circle cx="1843.9" cy="1332.47" r="4.6" fill="#9a0000"/>
<circle cx="1834.78" cy="1341.8" r="4.6" fill="#9a0000"/>
<circle cx="1853.03" cy="1341.8" r="4.6" fill="#9a0000"/>
<circle cx="1834.78" cy="1368.34" r="4.6" fill="#9a0000"/>
<circle cx="1853.03" cy="1368.34" r="4.6" fill="#9a0000"/>
<circle cx="1843.9" cy="1377.47" r="4.6" fill="#9a0000"/>
<circle cx="1843.9" cy="1386.38" r="4.6" fill="#9a0000"/>
<circle cx="1945.52" cy="1359.22" r="4.6" fill="#00008a"/>
<circle cx="1935.98" cy="1370.83" r="4.6" fill="#00008a"/>
<circle cx="1955.06" cy="1368.34" r="4.6" fill="#00008a"/>
<circle cx="1974.76" cy="1368.34" r="4.6" fill="#00008a"/>
<circle cx="1955.06" cy="1377.47" r="4.6" fill="#00008a"/>
<circle cx="1945.52" cy="1378.09" r="4.6" fill="#00008a"/>
<circle cx="1935.98" cy="1386.38" r="4.6" fill="#00008a"/>
<circle cx="1955.06" cy="1386.38" r="4.6" fill="#00008a"/>
<circle cx="1945.52" cy="1413.34" r="4.6" fill="#00008a"/>
<line x1="1742.71" y1="1382.65" x2="1742.71" y2="1393.64" stroke="#000" stroke-width="3.4"/>
<line x1="1709.11" y1="1388.25" x2="1776.3" y2="1388.25" stroke="#000" stroke-width="3.4"/>
<line x1="1726.32" y1="1382.65" x2="1759.29" y2="1382.65" stroke="#000" stroke-width="3.4"/>
<line x1="1726.32" y1="1393.64" x2="1759.29" y2="1393.64" stroke="#000" stroke-width="3.4"/>
<line x1="1844.21" y1="1338.06" x2="1844.21" y2="1358.39" stroke="#000" stroke-width="3.4"/>
<line x1="1810.72" y1="1348.23" x2="1877.71" y2="1348.23" stroke="#000" stroke-width="3.4"/>
<line x1="1827.31" y1="1338.06" x2="1860.7" y2="1338.06" stroke="#000" stroke-width="3.4"/>
<line x1="1827.31" y1="1358.39" x2="1860.7" y2="1358.39" stroke="#000" stroke-width="3.4"/>
<line x1="1945.41" y1="1372.7" x2="1945.41" y2="1384.72" stroke="#000" stroke-width="3.4"/>
<line x1="1911.92" y1="1378.5" x2="1978.9" y2="1378.5" stroke="#000" stroke-width="3.4"/>
<line x1="1928.93" y1="1372.7" x2="1962.11" y2="1372.7" stroke="#000" stroke-width="3.4"/>
<line x1="1928.93" y1="1384.72" x2="1962.11" y2="1384.72" stroke="#000" stroke-width="3.4"/>
<line x1="1732.13" y1="1268.59" x2="1839.76" y2="1268.59" stroke="#000" stroke-width="3.4"/>
<line x1="1732.13" y1="1258.59" x2="1732.13" y2="1278.59" stroke="#000" stroke-width="3.3"/>
<line x1="1839.76" y1="1258.59" x2="1839.76" y2="1278.59" stroke="#000" stroke-width="3.3"/>
<text x="1783.35" y="1268.73" font-size="21" text-anchor="middle">*</text>
<line x1="1853.44" y1="1268.18" x2="1960.86" y2="1268.18" stroke="#000" stroke-width="3.4"/>
<line x1="1853.44" y1="1258.18" x2="1853.44" y2="1278.18" stroke="#000" stroke-width="3.3"/>
<line x1="1960.86" y1="1258.18" x2="1960.86" y2="1278.18" stroke="#000" stroke-width="3.3"/>
<text x="1905.7" y="1268.73" font-size="21" text-anchor="middle">*</text>
<text x="1843.8" y="1222.1" font-size="28" text-anchor="middle" textLength="223.5" lengthAdjust="spacingAndGlyphs">Beam test 0.6cm</text>
<text x="1577" y="1201" font-size="51">f</text>
<text transform="translate(1627.7 1369.1) rotate(-90)" font-size="22.4" text-anchor="middle" textLength="273" lengthAdjust="spacingAndGlyphs">Time transverse (s) <tspan font-weight="normal">±</tspan> SEM</text>
<text x="1577.2" y="1527.9" font-size="22" textLength="99.5" lengthAdjust="spacingAndGlyphs">Rotenone</text>
<text x="1577.2" y="1557.2" font-size="22" textLength="105.2" lengthAdjust="spacingAndGlyphs">Treatment</text>
<text x="1741.6" y="1527.2" font-size="22" text-anchor="middle">-</text>
<text x="1843.5" y="1527.2" font-size="22" text-anchor="middle">+</text>
<text x="1945.3" y="1527.2" font-size="22" text-anchor="middle">+</text>
<text x="1741.7" y="1557.2" font-size="22" text-anchor="middle">V</text>
<text x="1843.3" y="1557.2" font-size="22" text-anchor="middle">V</text>
<text x="1946.3" y="1557.2" font-size="22" text-anchor="middle">E</text>
<line x1="142.55" y1="1729.7" x2="142.55" y2="1955.2" stroke="#000" stroke-width="2.6"/>
<line x1="132.95" y1="1955.2" x2="480.55" y2="1955.2" stroke="#000" stroke-width="2.6"/>
<line x1="132.95" y1="1731" x2="142.55" y2="1731" stroke="#000" stroke-width="2.6"/>
<line x1="132.95" y1="1775.84" x2="142.55" y2="1775.84" stroke="#000" stroke-width="2.6"/>
<line x1="132.95" y1="1820.68" x2="142.55" y2="1820.68" stroke="#000" stroke-width="2.6"/>
<line x1="132.95" y1="1865.52" x2="142.55" y2="1865.52" stroke="#000" stroke-width="2.6"/>
<line x1="132.95" y1="1910.36" x2="142.55" y2="1910.36" stroke="#000" stroke-width="2.6"/>
<line x1="193.9" y1="1955.2" x2="193.9" y2="1965.2" stroke="#000" stroke-width="2.6"/>
<line x1="271.4" y1="1955.2" x2="271.4" y2="1965.2" stroke="#000" stroke-width="2.6"/>
<line x1="349.2" y1="1955.2" x2="349.2" y2="1965.2" stroke="#000" stroke-width="2.6"/>
<line x1="427" y1="1955.2" x2="427" y2="1965.2" stroke="#000" stroke-width="2.6"/>
<text x="130.25" y="1737.16" font-size="16.6" text-anchor="end">25</text>
<text x="130.25" y="1782" font-size="16.6" text-anchor="end">20</text>
<text x="130.25" y="1826.84" font-size="16.6" text-anchor="end">15</text>
<text x="130.25" y="1871.68" font-size="16.6" text-anchor="end">10</text>
<text x="130.25" y="1916.52" font-size="16.6" text-anchor="end">5</text>
<text x="130.25" y="1961.36" font-size="16.6" text-anchor="end">0</text>
<circle cx="193.87" cy="1775.69" r="4.6" fill="#000000"/>
<circle cx="193.87" cy="1820.28" r="4.6" fill="#000000"/>
<circle cx="184.95" cy="1829.61" r="4.6" fill="#000000"/>
<circle cx="203" cy="1829.61" r="4.6" fill="#000000"/>
<circle cx="193.87" cy="1838.53" r="4.6" fill="#000000"/>
<circle cx="193.87" cy="1856.57" r="4.6" fill="#000000"/>
<circle cx="193.87" cy="1865.28" r="4.6" fill="#000000"/>
<circle cx="184.95" cy="1874.61" r="4.6" fill="#000000"/>
<circle cx="203" cy="1874.61" r="4.6" fill="#000000"/>
<circle cx="193.87" cy="1883.32" r="4.6" fill="#000000"/>
<circle cx="271.43" cy="1847.65" r="4.6" fill="#9a0000"/>
<circle cx="282.42" cy="1856.57" r="4.6" fill="#9a0000"/>
<circle cx="250.28" cy="1862.79" r="4.6" fill="#9a0000"/>
<circle cx="271.43" cy="1867.97" r="4.6" fill="#9a0000"/>
<circle cx="282.42" cy="1865.9" r="4.6" fill="#9a0000"/>
<circle cx="293.2" cy="1871.71" r="4.6" fill="#9a0000"/>
<circle cx="250.28" cy="1874.19" r="4.6" fill="#9a0000"/>
<circle cx="282.42" cy="1874.19" r="4.6" fill="#9a0000"/>
<circle cx="271.43" cy="1877.3" r="4.6" fill="#9a0000"/>
<circle cx="261.06" cy="1883.53" r="4.6" fill="#9a0000"/>
<circle cx="282.42" cy="1883.53" r="4.6" fill="#9a0000"/>
<circle cx="271.43" cy="1892.86" r="4.6" fill="#9a0000"/>
<circle cx="271.43" cy="1901.57" r="4.6" fill="#9a0000"/>
<circle cx="266.24" cy="1910.48" r="4.6" fill="#9a0000"/>
<circle cx="276.82" cy="1910.48" r="4.6" fill="#9a0000"/>
<circle cx="271.43" cy="1919.4" r="4.6" fill="#9a0000"/>
<circle cx="271.43" cy="1928.73" r="4.6" fill="#9a0000"/>
<circle cx="349.4" cy="1757.65" r="4.6" fill="#f0f0f0" stroke="#000" stroke-width="2.1"/>
<circle cx="349.4" cy="1757.65" r="2.05" fill="#000"/>
<circle cx="340.48" cy="1766.77" r="4.6" fill="#f0f0f0" stroke="#000" stroke-width="2.1"/>
<circle cx="340.48" cy="1766.77" r="2.05" fill="#000"/>
<circle cx="358.53" cy="1766.77" r="4.6" fill="#f0f0f0" stroke="#000" stroke-width="2.1"/>
<circle cx="358.53" cy="1766.77" r="2.05" fill="#000"/>
<circle cx="349.4" cy="1784.61" r="4.6" fill="#f0f0f0" stroke="#000" stroke-width="2.1"/>
<circle cx="349.4" cy="1784.61" r="2.05" fill="#000"/>
<circle cx="349.4" cy="1793.73" r="4.6" fill="#f0f0f0" stroke="#000" stroke-width="2.1"/>
<circle cx="349.4" cy="1793.73" r="2.05" fill="#000"/>
<circle cx="349.4" cy="1802.65" r="4.6" fill="#f0f0f0" stroke="#000" stroke-width="2.1"/>
<circle cx="349.4" cy="1802.65" r="2.05" fill="#000"/>
<circle cx="349.4" cy="1829.61" r="4.6" fill="#f0f0f0" stroke="#000" stroke-width="2.1"/>
<circle cx="349.4" cy="1829.61" r="2.05" fill="#000"/>
<circle cx="349.4" cy="1838.53" r="4.6" fill="#f0f0f0" stroke="#000" stroke-width="2.1"/>
<circle cx="349.4" cy="1838.53" r="2.05" fill="#000"/>
<circle cx="340.48" cy="1856.57" r="4.6" fill="#f0f0f0" stroke="#000" stroke-width="2.1"/>
<circle cx="340.48" cy="1856.57" r="2.05" fill="#000"/>
<circle cx="358.53" cy="1856.57" r="4.6" fill="#f0f0f0" stroke="#000" stroke-width="2.1"/>
<circle cx="358.53" cy="1856.57" r="2.05" fill="#000"/>
<circle cx="349.4" cy="1874.61" r="4.6" fill="#f0f0f0" stroke="#000" stroke-width="2.1"/>
<circle cx="349.4" cy="1874.61" r="2.05" fill="#000"/>
<circle cx="426.96" cy="1811.57" r="4.6" fill="#00008a"/>
<circle cx="426.96" cy="1829.61" r="4.6" fill="#00008a"/>
<circle cx="417.83" cy="1837.9" r="4.6" fill="#00008a"/>
<circle cx="436.08" cy="1837.9" r="4.6" fill="#00008a"/>
<circle cx="426.96" cy="1847.65" r="4.6" fill="#00008a"/>
<circle cx="426.96" cy="1856.57" r="4.6" fill="#00008a"/>
<circle cx="417.83" cy="1865.48" r="4.6" fill="#00008a"/>
<circle cx="436.08" cy="1865.48" r="4.6" fill="#00008a"/>
<circle cx="426.96" cy="1883.32" r="4.6" fill="#00008a"/>
<line x1="193.97" y1="1834.59" x2="193.97" y2="1855.32" stroke="#000" stroke-width="3.4"/>
<line x1="168.36" y1="1844.95" x2="219.59" y2="1844.95" stroke="#000" stroke-width="3.4"/>
<line x1="181.43" y1="1834.59" x2="206.73" y2="1834.59" stroke="#000" stroke-width="3.4"/>
<line x1="181.43" y1="1855.32" x2="206.73" y2="1855.32" stroke="#000" stroke-width="3.4"/>
<line x1="271.74" y1="1878.34" x2="271.74" y2="1889.33" stroke="#000" stroke-width="3.4"/>
<line x1="246.13" y1="1883.94" x2="297.35" y2="1883.94" stroke="#000" stroke-width="3.4"/>
<line x1="258.99" y1="1878.34" x2="284.49" y2="1878.34" stroke="#000" stroke-width="3.4"/>
<line x1="258.99" y1="1889.33" x2="284.49" y2="1889.33" stroke="#000" stroke-width="3.4"/>
<line x1="349.5" y1="1799.33" x2="349.5" y2="1824.22" stroke="#000" stroke-width="3.4"/>
<line x1="323.89" y1="1811.57" x2="375.12" y2="1811.57" stroke="#000" stroke-width="3.4"/>
<line x1="336.75" y1="1799.33" x2="362.05" y2="1799.33" stroke="#000" stroke-width="3.4"/>
<line x1="336.75" y1="1824.22" x2="362.05" y2="1824.22" stroke="#000" stroke-width="3.4"/>
<line x1="427.27" y1="1841.64" x2="427.27" y2="1855.94" stroke="#000" stroke-width="3.4"/>
<line x1="401.66" y1="1848.48" x2="452.88" y2="1848.48" stroke="#000" stroke-width="3.4"/>
<line x1="414.52" y1="1841.64" x2="439.82" y2="1841.64" stroke="#000" stroke-width="3.4"/>
<line x1="414.52" y1="1855.94" x2="439.82" y2="1855.94" stroke="#000" stroke-width="3.4"/>
<line x1="192.83" y1="1719.49" x2="275.99" y2="1719.49" stroke="#000" stroke-width="3.4"/>
<line x1="192.83" y1="1709.49" x2="192.83" y2="1729.49" stroke="#000" stroke-width="3.3"/>
<line x1="275.99" y1="1709.49" x2="275.99" y2="1729.49" stroke="#000" stroke-width="3.3"/>
<text x="233.69" y="1721.91" font-size="21" text-anchor="middle">*</text>
<line x1="291.54" y1="1719.49" x2="433.18" y2="1719.49" stroke="#000" stroke-width="3.4"/>
<line x1="291.54" y1="1709.49" x2="291.54" y2="1729.49" stroke="#000" stroke-width="3.3"/>
<line x1="433.18" y1="1709.49" x2="433.18" y2="1729.49" stroke="#000" stroke-width="3.3"/>
<text x="359.77" y="1721.28" font-size="21" text-anchor="middle">*</text>
<line x1="260.65" y1="1741.06" x2="344.22" y2="1741.06" stroke="#000" stroke-width="3.4"/>
<line x1="260.65" y1="1731.06" x2="260.65" y2="1751.06" stroke="#000" stroke-width="3.3"/>
<line x1="344.22" y1="1731.06" x2="344.22" y2="1751.06" stroke="#000" stroke-width="3.3"/>
<text x="304.82" y="1744.3" font-size="21" text-anchor="middle">***</text>
<line x1="349.82" y1="1741.06" x2="433.39" y2="1741.06" stroke="#000" stroke-width="3.4"/>
<line x1="349.82" y1="1731.06" x2="349.82" y2="1751.06" stroke="#000" stroke-width="3.3"/>
<line x1="433.39" y1="1731.06" x2="433.39" y2="1751.06" stroke="#000" stroke-width="3.3"/>
<text x="392.53" y="1743.06" font-size="21" text-anchor="middle">*</text>
<text x="310.8" y="1698.7" font-size="28" text-anchor="middle" textLength="166" lengthAdjust="spacingAndGlyphs">Cylinder test</text>
<text x="50" y="1665" font-size="51">g</text>
<text transform="translate(98.3 1842.6) rotate(-90)" font-size="22.4" text-anchor="middle" textLength="239.7" lengthAdjust="spacingAndGlyphs">Number of rears <tspan font-weight="normal">±</tspan> SEM</text>
<text x="43.9" y="1992.3" font-size="22" textLength="99.5" lengthAdjust="spacingAndGlyphs">Rotenone</text>
<text x="43.9" y="2020.9" font-size="22" textLength="100.1" lengthAdjust="spacingAndGlyphs">Genotype</text>
<text x="194.7" y="1991" font-size="22" text-anchor="middle">-</text>
<text x="272" y="1991" font-size="22" text-anchor="middle">+</text>
<text x="351.1" y="1991" font-size="22" text-anchor="middle">-</text>
<text x="428.4" y="1991" font-size="22" text-anchor="middle">+</text>
<text x="193.6" y="2024" font-size="22" text-anchor="middle">Wt</text>
<text x="274.5" y="2024" font-size="22" text-anchor="middle">Wt</text>
<text x="349.4" y="2024" font-size="22" text-anchor="middle" textLength="63" lengthAdjust="spacingAndGlyphs">P479L</text>
<text x="434.8" y="2024" font-size="22" text-anchor="middle" textLength="63" lengthAdjust="spacingAndGlyphs">P479L</text>
<line x1="653.4" y1="1729.7" x2="653.4" y2="1955.2" stroke="#000" stroke-width="2.6"/>
<line x1="643.8" y1="1955.2" x2="991.4" y2="1955.2" stroke="#000" stroke-width="2.6"/>
<line x1="643.8" y1="1731" x2="653.4" y2="1731" stroke="#000" stroke-width="2.6"/>
<line x1="643.8" y1="1805.73" x2="653.4" y2="1805.73" stroke="#000" stroke-width="2.6"/>
<line x1="643.8" y1="1880.47" x2="653.4" y2="1880.47" stroke="#000" stroke-width="2.6"/>
<line x1="704.75" y1="1955.2" x2="704.75" y2="1965.2" stroke="#000" stroke-width="2.6"/>
<line x1="782.25" y1="1955.2" x2="782.25" y2="1965.2" stroke="#000" stroke-width="2.6"/>
<line x1="860.05" y1="1955.2" x2="860.05" y2="1965.2" stroke="#000" stroke-width="2.6"/>
<line x1="937.85" y1="1955.2" x2="937.85" y2="1965.2" stroke="#000" stroke-width="2.6"/>
<text x="641.1" y="1737.16" font-size="16.6" text-anchor="end">15</text>
<text x="641.1" y="1811.89" font-size="16.6" text-anchor="end">10</text>
<text x="641.1" y="1886.63" font-size="16.6" text-anchor="end">5</text>
<text x="641.1" y="1961.36" font-size="16.6" text-anchor="end">0</text>
<circle cx="683.55" cy="1845.16" r="4.6" fill="#000000"/>
<circle cx="704.91" cy="1835.41" r="4.6" fill="#000000"/>
<circle cx="726.47" cy="1845.16" r="4.6" fill="#000000"/>
<circle cx="704.91" cy="1850.14" r="4.6" fill="#000000"/>
<circle cx="704.91" cy="1875.44" r="4.6" fill="#000000"/>
<circle cx="773.76" cy="1800.58" r="4.6" fill="#9a0000"/>
<circle cx="791.59" cy="1795.6" r="4.6" fill="#9a0000"/>
<circle cx="782.67" cy="1810.32" r="4.6" fill="#9a0000"/>
<circle cx="782.67" cy="1840.6" r="4.6" fill="#9a0000"/>
<circle cx="773.76" cy="1860.3" r="4.6" fill="#9a0000"/>
<circle cx="791.59" cy="1860.3" r="4.6" fill="#9a0000"/>
<circle cx="860.23" cy="1845.16" r="4.6" fill="#f0f0f0" stroke="#000" stroke-width="2.1"/>
<circle cx="860.23" cy="1845.16" r="2.05" fill="#000"/>
<circle cx="860.23" cy="1855.12" r="4.6" fill="#f0f0f0" stroke="#000" stroke-width="2.1"/>
<circle cx="860.23" cy="1855.12" r="2.05" fill="#000"/>
<circle cx="860.23" cy="1884.98" r="4.6" fill="#f0f0f0" stroke="#000" stroke-width="2.1"/>
<circle cx="860.23" cy="1884.98" r="2.05" fill="#000"/>
<circle cx="938" cy="1835.41" r="4.6" fill="#00008a"/>
<circle cx="938" cy="1855.12" r="4.6" fill="#00008a"/>
<circle cx="938" cy="1880" r="4.6" fill="#00008a"/>
<circle cx="938" cy="1895.35" r="4.6" fill="#00008a"/>
<line x1="705.01" y1="1843.5" x2="705.01" y2="1856.77" stroke="#000" stroke-width="2.2"/>
<line x1="679.4" y1="1850.14" x2="730.62" y2="1850.14" stroke="#000" stroke-width="2.2"/>
<line x1="692.26" y1="1843.5" x2="717.76" y2="1843.5" stroke="#000" stroke-width="2.2"/>
<line x1="692.26" y1="1856.77" x2="717.76" y2="1856.77" stroke="#000" stroke-width="2.2"/>
<line x1="782.78" y1="1815.51" x2="782.78" y2="1840.18" stroke="#000" stroke-width="2.2"/>
<line x1="757.17" y1="1827.53" x2="808.39" y2="1827.53" stroke="#000" stroke-width="2.2"/>
<line x1="770.02" y1="1815.51" x2="795.53" y2="1815.51" stroke="#000" stroke-width="2.2"/>
<line x1="770.02" y1="1840.18" x2="795.53" y2="1840.18" stroke="#000" stroke-width="2.2"/>
<line x1="860.23" y1="1849.52" x2="860.23" y2="1873.78" stroke="#000" stroke-width="2.2"/>
<line x1="834.52" y1="1861.75" x2="885.94" y2="1861.75" stroke="#000" stroke-width="2.2"/>
<line x1="847.79" y1="1849.52" x2="873.09" y2="1849.52" stroke="#000" stroke-width="2.2"/>
<line x1="847.79" y1="1873.78" x2="873.09" y2="1873.78" stroke="#000" stroke-width="2.2"/>
<line x1="938" y1="1853.04" x2="938" y2="1879.79" stroke="#000" stroke-width="2.2"/>
<line x1="912.28" y1="1866.31" x2="963.71" y2="1866.31" stroke="#000" stroke-width="2.2"/>
<line x1="925.14" y1="1853.04" x2="950.65" y2="1853.04" stroke="#000" stroke-width="2.2"/>
<line x1="925.14" y1="1879.79" x2="950.65" y2="1879.79" stroke="#000" stroke-width="2.2"/>
<text x="822" y="1698.7" font-size="28" text-anchor="middle" textLength="115.3" lengthAdjust="spacingAndGlyphs">Pole test</text>
<text x="567.5" y="1664.7" font-size="51">h</text>
<text transform="translate(608.7 1842.4) rotate(-90)" font-size="22.4" text-anchor="middle" textLength="250" lengthAdjust="spacingAndGlyphs">Time descend (s) <tspan font-weight="normal">±</tspan> SEM</text>
<text x="554.85" y="1992.3" font-size="22" textLength="99.5" lengthAdjust="spacingAndGlyphs">Rotenone</text>
<text x="554.85" y="2020.9" font-size="22" textLength="100.1" lengthAdjust="spacingAndGlyphs">Genotype</text>
<text x="705.65" y="1991" font-size="22" text-anchor="middle">-</text>
<text x="782.95" y="1991" font-size="22" text-anchor="middle">+</text>
<text x="862.05" y="1991" font-size="22" text-anchor="middle">-</text>
<text x="939.35" y="1991" font-size="22" text-anchor="middle">+</text>
<text x="704.55" y="2024" font-size="22" text-anchor="middle">Wt</text>
<text x="785.45" y="2024" font-size="22" text-anchor="middle">Wt</text>
<text x="860.35" y="2024" font-size="22" text-anchor="middle" textLength="63" lengthAdjust="spacingAndGlyphs">P479L</text>
<text x="945.75" y="2024" font-size="22" text-anchor="middle" textLength="63" lengthAdjust="spacingAndGlyphs">P479L</text>
<line x1="1164.3" y1="1734.9" x2="1164.3" y2="1961.4" stroke="#000" stroke-width="2.6"/>
<line x1="1154.7" y1="1961.4" x2="1502.7" y2="1961.4" stroke="#000" stroke-width="2.6"/>
<line x1="1154.7" y1="1736.2" x2="1164.3" y2="1736.2" stroke="#000" stroke-width="2.6"/>
<line x1="1154.7" y1="1781.24" x2="1164.3" y2="1781.24" stroke="#000" stroke-width="2.6"/>
<line x1="1154.7" y1="1826.28" x2="1164.3" y2="1826.28" stroke="#000" stroke-width="2.6"/>
<line x1="1154.7" y1="1871.32" x2="1164.3" y2="1871.32" stroke="#000" stroke-width="2.6"/>
<line x1="1154.7" y1="1916.36" x2="1164.3" y2="1916.36" stroke="#000" stroke-width="2.6"/>
<line x1="1231.9" y1="1961.4" x2="1231.9" y2="1971.4" stroke="#000" stroke-width="2.6"/>
<line x1="1333.1" y1="1961.4" x2="1333.1" y2="1971.4" stroke="#000" stroke-width="2.6"/>
<line x1="1434.7" y1="1961.4" x2="1434.7" y2="1971.4" stroke="#000" stroke-width="2.6"/>
<text x="1152" y="1744.34" font-size="22.2" text-anchor="end">30</text>
<text x="1152" y="1789.38" font-size="22.2" text-anchor="end">28</text>
<text x="1152" y="1834.42" font-size="22.2" text-anchor="end">26</text>
<text x="1152" y="1879.46" font-size="22.2" text-anchor="end">24</text>
<text x="1152" y="1924.5" font-size="22.2" text-anchor="end">22</text>
<text x="1152" y="1969.54" font-size="22.2" text-anchor="end">20</text>
<circle cx="1231.71" cy="1758.94" r="4.6" fill="#000000"/>
<circle cx="1231.71" cy="1781.54" r="4.6" fill="#000000"/>
<circle cx="1222.58" cy="1826.54" r="4.6" fill="#000000"/>
<circle cx="1240.62" cy="1826.54" r="4.6" fill="#000000"/>
<circle cx="1231.71" cy="1848.94" r="4.6" fill="#000000"/>
<circle cx="1314.86" cy="1758.94" r="4.6" fill="#9a0000"/>
<circle cx="1332.9" cy="1758.94" r="4.6" fill="#9a0000"/>
<circle cx="1351.15" cy="1758.94" r="4.6" fill="#9a0000"/>
<circle cx="1314.86" cy="1781.54" r="4.6" fill="#9a0000"/>
<circle cx="1332.9" cy="1781.54" r="4.6" fill="#9a0000"/>
<circle cx="1351.15" cy="1781.54" r="4.6" fill="#9a0000"/>
<circle cx="1314.86" cy="1803.94" r="4.6" fill="#9a0000"/>
<circle cx="1332.9" cy="1803.94" r="4.6" fill="#9a0000"/>
<circle cx="1351.15" cy="1803.94" r="4.6" fill="#9a0000"/>
<circle cx="1332.9" cy="1826.54" r="4.6" fill="#9a0000"/>
<circle cx="1405.07" cy="1781.54" r="4.6" fill="#00008a"/>
<circle cx="1420" cy="1781.54" r="4.6" fill="#00008a"/>
<circle cx="1434.52" cy="1781.54" r="4.6" fill="#00008a"/>
<circle cx="1449.24" cy="1781.54" r="4.6" fill="#00008a"/>
<circle cx="1464.17" cy="1781.54" r="4.6" fill="#00008a"/>
<circle cx="1420" cy="1803.94" r="4.6" fill="#00008a"/>
<circle cx="1434.52" cy="1803.94" r="4.6" fill="#00008a"/>
<circle cx="1449.24" cy="1803.94" r="4.6" fill="#00008a"/>
<circle cx="1434.52" cy="1826.54" r="4.6" fill="#00008a"/>
<circle cx="1434.52" cy="1916.54" r="4.6" fill="#00008a"/>
<line x1="1231.71" y1="1770.14" x2="1231.71" y2="1837.53" stroke="#000" stroke-width="3.4"/>
<line x1="1198.11" y1="1826.54" x2="1265.3" y2="1826.54" stroke="#000" stroke-width="3.4"/>
<line x1="1215.32" y1="1770.14" x2="1248.29" y2="1770.14" stroke="#000" stroke-width="3.4"/>
<line x1="1215.32" y1="1837.53" x2="1248.29" y2="1837.53" stroke="#000" stroke-width="3.4"/>
<line x1="1333.21" y1="1758.94" x2="1333.21" y2="1803.94" stroke="#000" stroke-width="1.6"/>
<line x1="1299.72" y1="1781.54" x2="1366.71" y2="1781.54" stroke="#000" stroke-width="3.4"/>
<line x1="1314.86" y1="1758.94" x2="1351.15" y2="1758.94" stroke="#000" stroke-width="1.6"/>
<line x1="1314.86" y1="1803.94" x2="1351.15" y2="1803.94" stroke="#000" stroke-width="1.6"/>
<line x1="1434.41" y1="1781.54" x2="1434.41" y2="1809.54" stroke="#000" stroke-width="3.4"/>
<line x1="1400.92" y1="1792.53" x2="1467.9" y2="1792.53" stroke="#000" stroke-width="3.4"/>
<line x1="1417.93" y1="1781.54" x2="1451.11" y2="1781.54" stroke="#000" stroke-width="3.4"/>
<line x1="1417.93" y1="1809.54" x2="1451.11" y2="1809.54" stroke="#000" stroke-width="3.4"/>
<text x="1333.3" y="1698.7" font-size="28" text-anchor="middle" textLength="92.1" lengthAdjust="spacingAndGlyphs">Weight</text>
<text x="1077" y="1665" font-size="51">i</text>
<text transform="translate(1115.8 1835.7) rotate(-90)" font-size="22.4" text-anchor="middle" textLength="224.7" lengthAdjust="spacingAndGlyphs">Body weight (g) <tspan font-weight="normal">±</tspan> IQR</text>
<text x="1066.2" y="2004.2" font-size="22" textLength="99.5" lengthAdjust="spacingAndGlyphs">Rotenone</text>
<text x="1066.2" y="2033.5" font-size="22" textLength="105.2" lengthAdjust="spacingAndGlyphs">Treatment</text>
<text x="1230.6" y="2003.5" font-size="22" text-anchor="middle">-</text>
<text x="1332.5" y="2003.5" font-size="22" text-anchor="middle">+</text>
<text x="1434.3" y="2003.5" font-size="22" text-anchor="middle">+</text>
<text x="1230.7" y="2033.5" font-size="22" text-anchor="middle">V</text>
<text x="1332.3" y="2033.5" font-size="22" text-anchor="middle">V</text>
<text x="1435.3" y="2033.5" font-size="22" text-anchor="middle">E</text>
<line x1="142.55" y1="2220.4" x2="142.55" y2="2446" stroke="#000" stroke-width="2.6"/>
<line x1="132.95" y1="2446" x2="480.55" y2="2446" stroke="#000" stroke-width="2.6"/>
<line x1="132.95" y1="2221.7" x2="142.55" y2="2221.7" stroke="#000" stroke-width="2.6"/>
<line x1="132.95" y1="2266.56" x2="142.55" y2="2266.56" stroke="#000" stroke-width="2.6"/>
<line x1="132.95" y1="2311.42" x2="142.55" y2="2311.42" stroke="#000" stroke-width="2.6"/>
<line x1="132.95" y1="2356.28" x2="142.55" y2="2356.28" stroke="#000" stroke-width="2.6"/>
<line x1="132.95" y1="2401.14" x2="142.55" y2="2401.14" stroke="#000" stroke-width="2.6"/>
<line x1="193.9" y1="2446" x2="193.9" y2="2456" stroke="#000" stroke-width="2.6"/>
<line x1="271.4" y1="2446" x2="271.4" y2="2456" stroke="#000" stroke-width="2.6"/>
<line x1="349.2" y1="2446" x2="349.2" y2="2456" stroke="#000" stroke-width="2.6"/>
<line x1="427" y1="2446" x2="427" y2="2456" stroke="#000" stroke-width="2.6"/>
<text x="130.25" y="2227.86" font-size="16.6" text-anchor="end">100</text>
<text x="130.25" y="2272.72" font-size="16.6" text-anchor="end">80</text>
<text x="130.25" y="2317.58" font-size="16.6" text-anchor="end">60</text>
<text x="130.25" y="2362.44" font-size="16.6" text-anchor="end">40</text>
<text x="130.25" y="2407.3" font-size="16.6" text-anchor="end">20</text>
<text x="130.25" y="2452.16" font-size="16.6" text-anchor="end">0</text>
<circle cx="172.51" cy="2283.57" r="4.6" fill="#000000"/>
<circle cx="194.29" cy="2282.33" r="4.6" fill="#000000"/>
<circle cx="215.44" cy="2284.61" r="4.6" fill="#000000"/>
<circle cx="194.29" cy="2293.73" r="4.6" fill="#000000"/>
<circle cx="215.44" cy="2296.43" r="4.6" fill="#000000"/>
<circle cx="172.51" cy="2300.99" r="4.6" fill="#000000"/>
<circle cx="194.29" cy="2307.42" r="4.6" fill="#000000"/>
<circle cx="215.44" cy="2307.42" r="4.6" fill="#000000"/>
<circle cx="204.65" cy="2328.99" r="4.6" fill="#000000"/>
<circle cx="183.29" cy="2334.17" r="4.6" fill="#000000"/>
<circle cx="271.64" cy="2264.29" r="4.6" fill="#9a0000"/>
<circle cx="250.28" cy="2305.14" r="4.6" fill="#9a0000"/>
<circle cx="278.69" cy="2307" r="4.6" fill="#9a0000"/>
<circle cx="264.38" cy="2309.7" r="4.6" fill="#9a0000"/>
<circle cx="250.28" cy="2320.28" r="4.6" fill="#9a0000"/>
<circle cx="293.2" cy="2322.35" r="4.6" fill="#9a0000"/>
<circle cx="278.69" cy="2325.46" r="4.6" fill="#9a0000"/>
<circle cx="293.2" cy="2334.17" r="4.6" fill="#9a0000"/>
<circle cx="264.38" cy="2337.49" r="4.6" fill="#9a0000"/>
<circle cx="278.69" cy="2336.87" r="4.6" fill="#9a0000"/>
<circle cx="293.2" cy="2343.5" r="4.6" fill="#9a0000"/>
<circle cx="271.64" cy="2371.71" r="4.6" fill="#9a0000"/>
<circle cx="271.64" cy="2322.35" r="4.6" fill="#9a0000"/>
<circle cx="349.4" cy="2282.95" r="4.6" fill="#f0f0f0" stroke="#000" stroke-width="2.1"/>
<circle cx="349.4" cy="2282.95" r="2.05" fill="#000"/>
<circle cx="363.71" cy="2282.33" r="4.6" fill="#f0f0f0" stroke="#000" stroke-width="2.1"/>
<circle cx="363.71" cy="2282.33" r="2.05" fill="#000"/>
<circle cx="335.3" cy="2287.51" r="4.6" fill="#f0f0f0" stroke="#000" stroke-width="2.1"/>
<circle cx="335.3" cy="2287.51" r="2.05" fill="#000"/>
<circle cx="356.45" cy="2296.43" r="4.6" fill="#f0f0f0" stroke="#000" stroke-width="2.1"/>
<circle cx="356.45" cy="2296.43" r="2.05" fill="#000"/>
<circle cx="342.14" cy="2300.58" r="4.6" fill="#f0f0f0" stroke="#000" stroke-width="2.1"/>
<circle cx="342.14" cy="2300.58" r="2.05" fill="#000"/>
<circle cx="328.04" cy="2305.14" r="4.6" fill="#f0f0f0" stroke="#000" stroke-width="2.1"/>
<circle cx="328.04" cy="2305.14" r="2.05" fill="#000"/>
<circle cx="370.97" cy="2307.83" r="4.6" fill="#f0f0f0" stroke="#000" stroke-width="2.1"/>
<circle cx="370.97" cy="2307.83" r="2.05" fill="#000"/>
<circle cx="328.04" cy="2316.75" r="4.6" fill="#f0f0f0" stroke="#000" stroke-width="2.1"/>
<circle cx="328.04" cy="2316.75" r="2.05" fill="#000"/>
<circle cx="342.14" cy="2318.82" r="4.6" fill="#f0f0f0" stroke="#000" stroke-width="2.1"/>
<circle cx="342.14" cy="2318.82" r="2.05" fill="#000"/>
<circle cx="370.97" cy="2319.65" r="4.6" fill="#f0f0f0" stroke="#000" stroke-width="2.1"/>
<circle cx="370.97" cy="2319.65" r="2.05" fill="#000"/>
<circle cx="356.45" cy="2322.35" r="4.6" fill="#f0f0f0" stroke="#000" stroke-width="2.1"/>
<circle cx="356.45" cy="2322.35" r="2.05" fill="#000"/>
<circle cx="328.04" cy="2325.88" r="4.6" fill="#f0f0f0" stroke="#000" stroke-width="2.1"/>
<circle cx="328.04" cy="2325.88" r="2.05" fill="#000"/>
<circle cx="426.96" cy="2271.96" r="4.6" fill="#00008a"/>
<circle cx="405.81" cy="2296.43" r="4.6" fill="#00008a"/>
<circle cx="412.65" cy="2294.35" r="4.6" fill="#00008a"/>
<circle cx="419.91" cy="2296.43" r="4.6" fill="#00008a"/>
<circle cx="434.01" cy="2294.98" r="4.6" fill="#00008a"/>
<circle cx="412.65" cy="2303.69" r="4.6" fill="#00008a"/>
<circle cx="441.06" cy="2302.65" r="4.6" fill="#00008a"/>
<circle cx="434.01" cy="2307.42" r="4.6" fill="#00008a"/>
<circle cx="426.96" cy="2314.06" r="4.6" fill="#00008a"/>
<circle cx="426.96" cy="2324.42" r="4.6" fill="#00008a"/>
<circle cx="426.96" cy="2301.61" r="4.6" fill="#00008a"/>
<line x1="193.97" y1="2296.01" x2="193.97" y2="2307.42" stroke="#000" stroke-width="3.4"/>
<line x1="168.36" y1="2301.61" x2="219.59" y2="2301.61" stroke="#000" stroke-width="3.4"/>
<line x1="181.43" y1="2296.01" x2="206.73" y2="2296.01" stroke="#000" stroke-width="3.4"/>
<line x1="181.43" y1="2307.42" x2="206.73" y2="2307.42" stroke="#000" stroke-width="3.4"/>
<line x1="271.74" y1="2316.54" x2="271.74" y2="2330.44" stroke="#000" stroke-width="3.4"/>
<line x1="246.13" y1="2323.39" x2="297.35" y2="2323.39" stroke="#000" stroke-width="3.4"/>
<line x1="258.99" y1="2316.54" x2="284.49" y2="2316.54" stroke="#000" stroke-width="3.4"/>
<line x1="258.99" y1="2330.44" x2="284.49" y2="2330.44" stroke="#000" stroke-width="3.4"/>
<line x1="349.5" y1="2301.61" x2="349.5" y2="2309.7" stroke="#000" stroke-width="3.4"/>
<line x1="323.89" y1="2305.35" x2="375.12" y2="2305.35" stroke="#000" stroke-width="3.4"/>
<line x1="336.75" y1="2301.61" x2="362.05" y2="2301.61" stroke="#000" stroke-width="3.4"/>
<line x1="336.75" y1="2309.7" x2="362.05" y2="2309.7" stroke="#000" stroke-width="3.4"/>
<line x1="427.27" y1="2297.05" x2="427.27" y2="2304.72" stroke="#000" stroke-width="3.4"/>
<line x1="401.66" y1="2300.99" x2="452.88" y2="2300.99" stroke="#000" stroke-width="3.4"/>
<line x1="414.52" y1="2297.05" x2="439.82" y2="2297.05" stroke="#000" stroke-width="3.4"/>
<line x1="414.52" y1="2304.72" x2="439.82" y2="2304.72" stroke="#000" stroke-width="3.4"/>
<line x1="189.52" y1="2240" x2="272.47" y2="2240" stroke="#000" stroke-width="3.4"/>
<line x1="189.52" y1="2230" x2="189.52" y2="2250" stroke="#000" stroke-width="3.3"/>
<line x1="272.47" y1="2230" x2="272.47" y2="2250" stroke="#000" stroke-width="3.3"/>
<text x="230.37" y="2241.61" font-size="21" text-anchor="middle">*</text>
<line x1="284.91" y1="2240" x2="426.54" y2="2240" stroke="#000" stroke-width="3.4"/>
<line x1="284.91" y1="2230" x2="284.91" y2="2250" stroke="#000" stroke-width="3.3"/>
<line x1="426.54" y1="2230" x2="426.54" y2="2250" stroke="#000" stroke-width="3.3"/>
<text x="352.93" y="2239.53" font-size="21" text-anchor="middle">*</text>
<text x="310.8" y="2189.1" font-size="28" text-anchor="middle" textLength="98.9" lengthAdjust="spacingAndGlyphs">Y-maze</text>
<text x="49" y="2174" font-size="51">j</text>
<text transform="translate(89.3 2333.6) rotate(-90)" font-size="22.4" text-anchor="middle" textLength="211" lengthAdjust="spacingAndGlyphs">Alternation % <tspan font-weight="normal">±</tspan> SEM</text>
<text x="43.9" y="2483.1" font-size="22" textLength="99.5" lengthAdjust="spacingAndGlyphs">Rotenone</text>
<text x="43.9" y="2511.7" font-size="22" textLength="100.1" lengthAdjust="spacingAndGlyphs">Genotype</text>
<text x="194.7" y="2481.8" font-size="22" text-anchor="middle">-</text>
<text x="272" y="2481.8" font-size="22" text-anchor="middle">+</text>
<text x="351.1" y="2481.8" font-size="22" text-anchor="middle">-</text>
<text x="428.4" y="2481.8" font-size="22" text-anchor="middle">+</text>
<text x="193.6" y="2514.8" font-size="22" text-anchor="middle">Wt</text>
<text x="274.5" y="2514.8" font-size="22" text-anchor="middle">Wt</text>
<text x="349.4" y="2514.8" font-size="22" text-anchor="middle" textLength="63" lengthAdjust="spacingAndGlyphs">P479L</text>
<text x="434.8" y="2514.8" font-size="22" text-anchor="middle" textLength="63" lengthAdjust="spacingAndGlyphs">P479L</text>
<line x1="653.4" y1="2220.4" x2="653.4" y2="2446" stroke="#000" stroke-width="2.6"/>
<line x1="643.8" y1="2446" x2="991.4" y2="2446" stroke="#000" stroke-width="2.6"/>
<line x1="643.8" y1="2221.7" x2="653.4" y2="2221.7" stroke="#000" stroke-width="2.6"/>
<line x1="643.8" y1="2296.47" x2="653.4" y2="2296.47" stroke="#000" stroke-width="2.6"/>
<line x1="643.8" y1="2371.23" x2="653.4" y2="2371.23" stroke="#000" stroke-width="2.6"/>
<line x1="704.75" y1="2446" x2="704.75" y2="2456" stroke="#000" stroke-width="2.6"/>
<line x1="782.25" y1="2446" x2="782.25" y2="2456" stroke="#000" stroke-width="2.6"/>
<line x1="860.05" y1="2446" x2="860.05" y2="2456" stroke="#000" stroke-width="2.6"/>
<line x1="937.85" y1="2446" x2="937.85" y2="2456" stroke="#000" stroke-width="2.6"/>
<text x="641.1" y="2227.86" font-size="16.6" text-anchor="end">35</text>
<text x="641.1" y="2302.63" font-size="16.6" text-anchor="end">30</text>
<text x="641.1" y="2377.39" font-size="16.6" text-anchor="end">25</text>
<text x="641.1" y="2452.16" font-size="16.6" text-anchor="end">20</text>
<circle cx="704.91" cy="2281.5" r="4.6" fill="#000000"/>
<circle cx="704.91" cy="2296.64" r="4.6" fill="#000000"/>
<circle cx="704.91" cy="2326.5" r="4.6" fill="#000000"/>
<circle cx="704.91" cy="2341.64" r="4.6" fill="#000000"/>
<circle cx="704.91" cy="2371.5" r="4.6" fill="#000000"/>
<circle cx="782.67" cy="2236.91" r="4.6" fill="#9a0000"/>
<circle cx="782.67" cy="2266.77" r="4.6" fill="#9a0000"/>
<circle cx="761.31" cy="2296.64" r="4.6" fill="#9a0000"/>
<circle cx="768.57" cy="2296.64" r="4.6" fill="#9a0000"/>
<circle cx="775.83" cy="2296.64" r="4.6" fill="#9a0000"/>
<circle cx="782.67" cy="2296.64" r="4.6" fill="#9a0000"/>
<circle cx="789.72" cy="2296.64" r="4.6" fill="#9a0000"/>
<circle cx="796.98" cy="2296.64" r="4.6" fill="#9a0000"/>
<circle cx="804.24" cy="2296.64" r="4.6" fill="#9a0000"/>
<circle cx="771.68" cy="2311.57" r="4.6" fill="#9a0000"/>
<circle cx="778.94" cy="2311.57" r="4.6" fill="#9a0000"/>
<circle cx="786.2" cy="2311.57" r="4.6" fill="#9a0000"/>
<circle cx="793.46" cy="2311.57" r="4.6" fill="#9a0000"/>
<circle cx="782.67" cy="2326.5" r="4.6" fill="#9a0000"/>
<circle cx="782.67" cy="2341.64" r="4.6" fill="#9a0000"/>
<circle cx="778.94" cy="2356.57" r="4.6" fill="#9a0000"/>
<circle cx="786.2" cy="2356.57" r="4.6" fill="#9a0000"/>
<circle cx="782.67" cy="2371.5" r="4.6" fill="#9a0000"/>
<circle cx="839.08" cy="2296.64" r="4.6" fill="#f0f0f0" stroke="#000" stroke-width="2.1"/>
<circle cx="839.08" cy="2296.64" r="2.05" fill="#000"/>
<circle cx="860.23" cy="2296.64" r="4.6" fill="#f0f0f0" stroke="#000" stroke-width="2.1"/>
<circle cx="860.23" cy="2296.64" r="2.05" fill="#000"/>
<circle cx="881.8" cy="2296.64" r="4.6" fill="#f0f0f0" stroke="#000" stroke-width="2.1"/>
<circle cx="881.8" cy="2296.64" r="2.05" fill="#000"/>
<circle cx="839.08" cy="2311.57" r="4.6" fill="#f0f0f0" stroke="#000" stroke-width="2.1"/>
<circle cx="839.08" cy="2311.57" r="2.05" fill="#000"/>
<circle cx="860.23" cy="2311.57" r="4.6" fill="#f0f0f0" stroke="#000" stroke-width="2.1"/>
<circle cx="860.23" cy="2311.57" r="2.05" fill="#000"/>
<circle cx="881.8" cy="2311.57" r="4.6" fill="#f0f0f0" stroke="#000" stroke-width="2.1"/>
<circle cx="881.8" cy="2311.57" r="2.05" fill="#000"/>
<circle cx="839.08" cy="2326.5" r="4.6" fill="#f0f0f0" stroke="#000" stroke-width="2.1"/>
<circle cx="839.08" cy="2326.5" r="2.05" fill="#000"/>
<circle cx="860.23" cy="2326.5" r="4.6" fill="#f0f0f0" stroke="#000" stroke-width="2.1"/>
<circle cx="860.23" cy="2326.5" r="2.05" fill="#000"/>
<circle cx="881.8" cy="2326.5" r="4.6" fill="#f0f0f0" stroke="#000" stroke-width="2.1"/>
<circle cx="881.8" cy="2326.5" r="2.05" fill="#000"/>
<circle cx="849.86" cy="2341.64" r="4.6" fill="#f0f0f0" stroke="#000" stroke-width="2.1"/>
<circle cx="849.86" cy="2341.64" r="2.05" fill="#000"/>
<circle cx="871.22" cy="2341.64" r="4.6" fill="#f0f0f0" stroke="#000" stroke-width="2.1"/>
<circle cx="871.22" cy="2341.64" r="2.05" fill="#000"/>
<circle cx="860.23" cy="2356.57" r="4.6" fill="#f0f0f0" stroke="#000" stroke-width="2.1"/>
<circle cx="860.23" cy="2356.57" r="2.05" fill="#000"/>
<circle cx="938" cy="2266.77" r="4.6" fill="#00008a"/>
<circle cx="927.42" cy="2311.57" r="4.6" fill="#00008a"/>
<circle cx="948.57" cy="2311.57" r="4.6" fill="#00008a"/>
<circle cx="938" cy="2326.5" r="4.6" fill="#00008a"/>
<circle cx="938" cy="2356.57" r="4.6" fill="#00008a"/>
<circle cx="938" cy="2371.5" r="4.6" fill="#00008a"/>
<circle cx="916.84" cy="2386.43" r="4.6" fill="#00008a"/>
<circle cx="938" cy="2386.43" r="4.6" fill="#00008a"/>
<circle cx="959.35" cy="2386.43" r="4.6" fill="#00008a"/>
<circle cx="927.42" cy="2416.5" r="4.6" fill="#00008a"/>
<circle cx="948.57" cy="2416.5" r="4.6" fill="#00008a"/>
<line x1="705.01" y1="2307.42" x2="705.01" y2="2339.56" stroke="#000" stroke-width="3"/>
<line x1="679.4" y1="2323.8" x2="730.62" y2="2323.8" stroke="#000" stroke-width="3"/>
<line x1="692.26" y1="2307.42" x2="717.76" y2="2307.42" stroke="#000" stroke-width="3"/>
<line x1="692.26" y1="2339.56" x2="717.76" y2="2339.56" stroke="#000" stroke-width="3"/>
<line x1="782.78" y1="2302.24" x2="782.78" y2="2317.79" stroke="#000" stroke-width="3"/>
<line x1="757.17" y1="2309.91" x2="808.39" y2="2309.91" stroke="#000" stroke-width="3"/>
<line x1="770.02" y1="2302.24" x2="795.53" y2="2302.24" stroke="#000" stroke-width="3"/>
<line x1="770.02" y1="2317.79" x2="795.53" y2="2317.79" stroke="#000" stroke-width="3"/>
<line x1="860.23" y1="2314.47" x2="860.23" y2="2325.67" stroke="#000" stroke-width="3"/>
<line x1="834.52" y1="2319.86" x2="885.94" y2="2319.86" stroke="#000" stroke-width="3"/>
<line x1="847.79" y1="2314.47" x2="873.09" y2="2314.47" stroke="#000" stroke-width="3"/>
<line x1="847.79" y1="2325.67" x2="873.09" y2="2325.67" stroke="#000" stroke-width="3"/>
<line x1="938" y1="2343.29" x2="938" y2="2372.33" stroke="#000" stroke-width="3"/>
<line x1="912.28" y1="2358.02" x2="963.71" y2="2358.02" stroke="#000" stroke-width="3"/>
<line x1="925.14" y1="2343.29" x2="950.65" y2="2343.29" stroke="#000" stroke-width="3"/>
<line x1="925.14" y1="2372.33" x2="950.65" y2="2372.33" stroke="#000" stroke-width="3"/>
<line x1="785.99" y1="2219.29" x2="939.86" y2="2219.29" stroke="#000" stroke-width="3.4"/>
<line x1="785.99" y1="2209.29" x2="785.99" y2="2229.29" stroke="#000" stroke-width="3.3"/>
<line x1="939.86" y1="2209.29" x2="939.86" y2="2229.29" stroke="#000" stroke-width="3.3"/>
<text x="862.93" y="2221.28" font-size="21" text-anchor="middle">**</text>
<text x="822.1" y="2189.1" font-size="28" text-anchor="middle" textLength="92.1" lengthAdjust="spacingAndGlyphs">Weight</text>
<text x="568" y="2173.5" font-size="51">k</text>
<text transform="translate(608.7 2333.6) rotate(-90)" font-size="22.4" text-anchor="middle" textLength="233.7" lengthAdjust="spacingAndGlyphs">Body weight (g) <tspan font-weight="normal">±</tspan> SEM</text>
<text x="554.85" y="2483.1" font-size="22" textLength="99.5" lengthAdjust="spacingAndGlyphs">Rotenone</text>
<text x="554.85" y="2511.7" font-size="22" textLength="100.1" lengthAdjust="spacingAndGlyphs">Genotype</text>
<text x="705.65" y="2481.8" font-size="22" text-anchor="middle">-</text>
<text x="782.95" y="2481.8" font-size="22" text-anchor="middle">+</text>
<text x="862.05" y="2481.8" font-size="22" text-anchor="middle">-</text>
<text x="939.35" y="2481.8" font-size="22" text-anchor="middle">+</text>
<text x="704.55" y="2514.8" font-size="22" text-anchor="middle">Wt</text>
<text x="785.45" y="2514.8" font-size="22" text-anchor="middle">Wt</text>
<text x="860.35" y="2514.8" font-size="22" text-anchor="middle" textLength="63" lengthAdjust="spacingAndGlyphs">P479L</text>
<text x="945.75" y="2514.8" font-size="22" text-anchor="middle" textLength="63" lengthAdjust="spacingAndGlyphs">P479L</text>
</svg>
</body></html>
